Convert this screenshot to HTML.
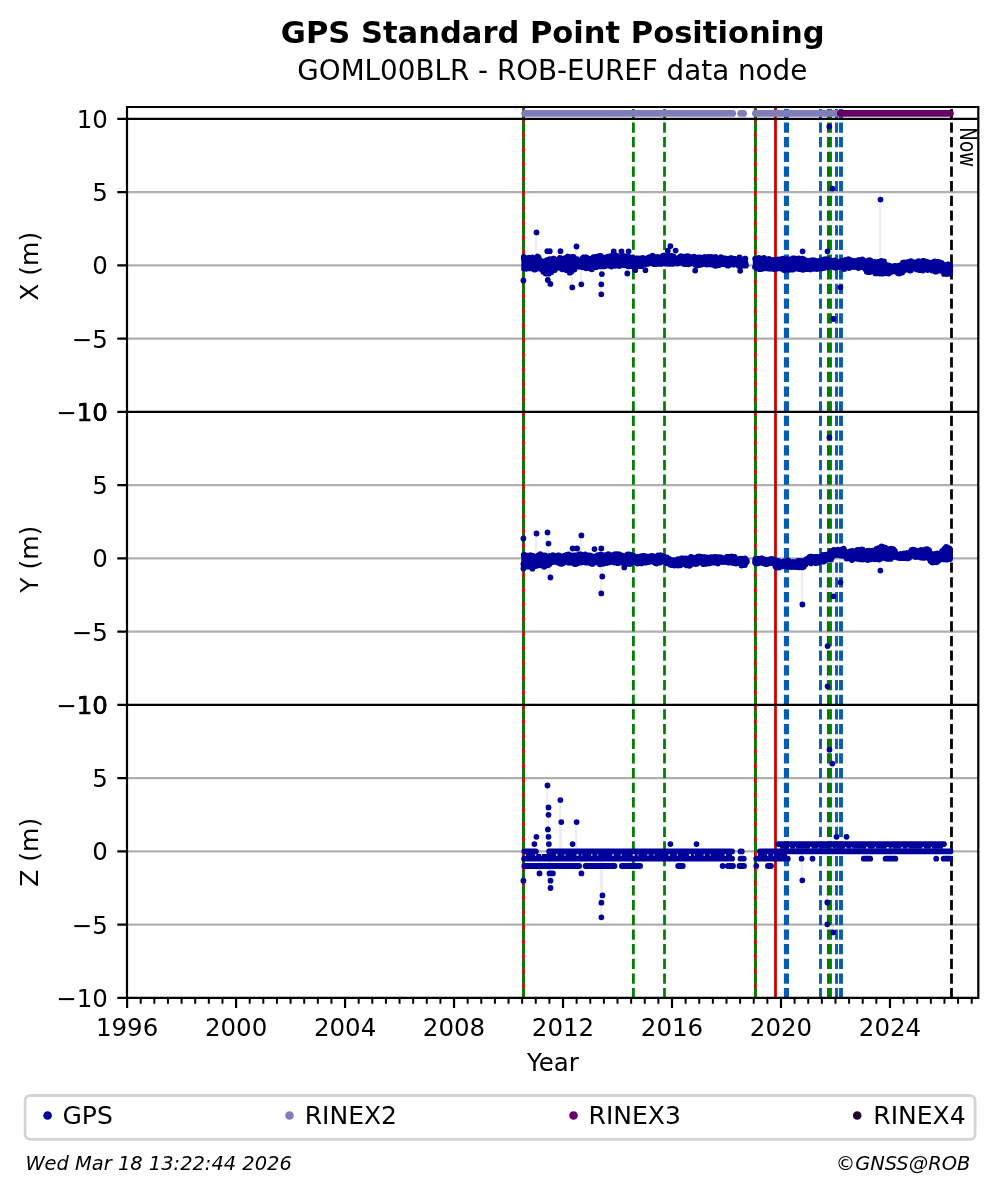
<!DOCTYPE html>
<html><head><meta charset="utf-8"><title>GPS Standard Point Positioning</title>
<style>html,body{margin:0;padding:0;background:#fff}svg{display:block}</style></head>
<body>
<svg width="997" height="1194" viewBox="0 0 997 1194" font-family='"DejaVu Sans", "Liberation Sans", sans-serif'>
<rect width="997" height="1194" fill="#fff"/>
<path d="M127.0 192.15H978.3M127.0 265.40H978.3M127.0 338.65H978.3M127.0 485.15H978.3M127.0 558.40H978.3M127.0 631.65H978.3M127.0 778.15H978.3M127.0 851.40H978.3M127.0 924.65H978.3" stroke="#b0b0b0" stroke-width="2.2" fill="none"/>
<path d="M523.50 107.75V997.9" stroke="#cc0000" stroke-width="2.78" fill="none"/>
<path d="M755.40 107.75V997.9" stroke="#cc0000" stroke-width="2.78" fill="none"/>
<path d="M775.50 107.75V997.9" stroke="#cc0000" stroke-width="2.78" fill="none"/>
<path d="M523.50 109.0V997.9" stroke="#008000" stroke-width="2.78" stroke-dasharray="10.25 4.422" stroke-dashoffset="1.25" fill="none"/>
<path d="M755.40 109.0V997.9" stroke="#008000" stroke-width="2.78" stroke-dasharray="10.25 4.422" stroke-dashoffset="1.25" fill="none"/>
<path d="M633.40 109.0V997.9" stroke="#008000" stroke-width="2.78" stroke-dasharray="10.25 4.422" stroke-dashoffset="1.25" fill="none"/>
<path d="M664.50 109.0V997.9" stroke="#008000" stroke-width="2.78" stroke-dasharray="10.25 4.422" stroke-dashoffset="1.25" fill="none"/>
<path d="M786.45 109.0V997.9" stroke="#055db5" stroke-width="5.1" stroke-dasharray="10.25 4.422" stroke-dashoffset="1.25" fill="none"/>
<path d="M820.50 109.0V997.9" stroke="#055db5" stroke-width="2.9" stroke-dasharray="10.25 4.422" stroke-dashoffset="1.25" fill="none"/>
<path d="M836.50 109.0V997.9" stroke="#055db5" stroke-width="2.9" stroke-dasharray="10.25 4.422" stroke-dashoffset="1.25" fill="none"/>
<path d="M841.00 109.0V997.9" stroke="#055db5" stroke-width="3.9" stroke-dasharray="10.25 4.422" stroke-dashoffset="1.25" fill="none"/>
<path d="M829.45 109.0V997.9" stroke="#008000" stroke-width="4.95" stroke-dasharray="10.25 4.422" stroke-dashoffset="1.25" fill="none"/>
<path d="M951.50 109.0V997.9" stroke="#000" stroke-width="2.78" stroke-dasharray="10.25 4.422" stroke-dashoffset="1.25" fill="none"/>
<path d="M536.5 232.4V263M576.5 246.5V263M523.4 280.4V263M547.8 280.0V263M550.4 283.9V263M572.3 287.4V263M581.3 284.3V263M601.3 284.3V263M601.3 294.3V263M670.4 246.1V263M667.8 250.6V263M675.6 250.6V263M829.3 126.6V263M832.5 188.6V263M840.4 287.3V263M833.4 319.0V263M880.5 199.6V263M523.4 538.4V558M536.5 533.5V558M547.5 532.4V558M548.5 543.6V558M581.4 535.4V558M550.4 577.5V558M602.3 576.5V558M601.3 593.4V558M829.4 437.5V558M802.4 604.5V558M833.4 596.3V558M840.4 582.3V558M827.6 646.1V558M827.6 686.3V558M880.4 570.6V558M829.5 749.7V851M832.3 763.6V851M802.3 880.3V851M827.3 902.5V851M827.3 924.3V851M833.2 932.4V851M539.5 873.4V851.4M549.5 873.4V851.4M581.4 873.4V851.4M523.4 880.7V851.4M550.5 880.7V851.4M550.5 888.0V851.4M547.9 829.4V851.4M561.3 822.1V851.4M576.6 822.1V851.4M548.5 814.8V851.4M548.5 807.4V851.4M560.4 800.1V851.4M547.5 785.5V851.4M602.5 895.4V851.4M601.4 902.7V851.4M601.4 917.3V851.4" stroke="#00008b" stroke-opacity="0.065" stroke-width="2.4" transform="translate(-0.4 0)" fill="none"/>
<path d="M521.3 255.7L521.8 255.7L522.3 255.6L522.8 255.6L523.3 255.5L523.8 255.5L524.3 255.5L524.8 255.6L525.3 255.7L525.8 255.8L526.3 255.9L526.8 256.1L527.3 256.2L527.8 256.2L528.3 256.2L528.8 256.3L529.3 256.3L529.8 256.3L530.3 256.4L530.8 256.4L531.3 256.4L531.8 256.4L532.3 256.5L532.8 256.4L533.3 256.3L533.8 256.1L534.3 255.9L534.8 255.7L535.3 255.6L535.8 255.6L536.3 255.6L536.8 255.6L537.3 255.6L537.8 255.6L538.3 255.6L538.8 255.7L539.3 255.7L539.8 255.7L540.3 256.8L540.8 258.7L541.3 259.6L541.8 259.9L542.3 260.2L542.8 260.5L543.3 260.8L543.8 260.9L544.3 260.9L544.8 260.8L545.3 260.6L545.8 260.3L546.3 259.9L546.8 259.5L547.3 259.1L547.8 258.9L548.3 258.7L548.8 258.5L549.3 258.3L549.8 258.1L550.3 257.9L550.8 257.7L551.3 257.6L551.8 257.4L552.3 257.2L552.8 257.2L553.3 257.4L553.8 257.8L554.3 258.1L554.8 258.5L555.3 258.7L555.8 258.9L556.3 258.8L556.8 258.7L557.3 258.4L557.8 258.1L558.3 257.8L558.8 257.5L559.3 257.3L559.8 257.1L560.3 257.1L560.8 257.2L561.3 257.3L561.8 257.4L562.3 257.6L562.8 257.7L563.3 257.7L563.8 257.6L564.3 257.5L564.8 257.3L565.3 257.0L565.8 256.6L566.3 256.3L566.8 256.0L567.3 255.7L567.8 255.5L568.3 255.4L568.8 255.5L569.3 255.5L569.8 255.6L570.3 255.7L570.8 255.7L571.3 255.8L571.8 255.8L572.3 255.8L572.8 255.7L573.3 255.6L573.8 255.4L574.3 256.3L574.8 257.8L575.3 258.4L575.8 258.3L576.3 258.3L576.8 258.4L577.3 258.6L577.8 258.7L578.3 258.9L578.8 259.1L579.3 259.2L579.8 259.3L580.3 259.3L580.8 259.4L581.3 259.5L581.8 259.6L582.3 258.7L582.8 257.2L583.3 256.6L583.8 256.7L584.3 256.7L584.8 256.6L585.3 256.5L585.8 256.3L586.3 256.1L586.8 255.9L587.3 255.8L587.8 255.7L588.3 255.7L588.8 255.8L589.3 255.9L589.8 256.0L590.3 256.1L590.8 256.2L591.3 256.3L591.8 256.3L592.3 256.3L592.8 256.3L593.3 256.3L593.8 256.2L594.3 256.2L594.8 256.2L595.3 256.1L595.8 256.1L596.3 256.1L596.8 256.0L597.3 255.8L597.8 255.6L598.3 255.4L598.8 255.2L599.3 255.0L599.8 254.9L600.3 255.0L600.8 255.1L601.3 255.3L601.8 255.5L602.3 255.8L602.8 256.1L603.3 256.2L603.8 256.3L604.3 256.3L604.8 256.3L605.3 256.2L605.8 256.2L606.3 256.1L606.8 256.0L607.3 255.9L607.8 255.9L608.3 255.9L608.8 255.8L609.3 255.7L609.8 255.6L610.3 255.5L610.8 255.4L611.3 255.3L611.8 255.2L612.3 255.2L612.8 255.2L613.3 255.1L613.8 255.1L614.3 255.0L614.8 254.9L615.3 254.9L615.8 254.8L616.3 254.9L616.8 255.0L617.3 255.2L617.8 255.6L618.3 255.9L618.8 256.2L619.3 256.4L619.8 256.6L620.3 256.5L620.8 256.5L621.3 256.3L621.8 256.1L622.3 255.9L622.8 255.7L623.3 255.6L623.8 255.5L624.3 255.5L624.8 255.5L625.3 255.6L625.8 255.7L626.3 255.8L626.8 256.0L627.3 256.0L627.8 256.1L628.3 256.1L628.8 256.1L629.3 256.2L629.8 256.3L630.3 256.3L630.8 256.4L631.3 256.5L631.8 256.5L632.3 256.7L632.8 256.9L633.3 257.2L633.8 257.4L634.3 257.4L634.8 257.3L635.3 257.3L635.8 257.2L636.3 257.2L636.8 257.3L637.3 257.4L637.8 257.5L638.3 257.6L638.8 257.7L639.3 257.8L639.8 257.8L640.3 257.8L640.8 257.7L641.3 257.5L641.8 257.3L642.3 257.0L642.8 256.7L643.3 256.5L643.8 256.5L644.3 256.5L644.8 256.5L645.3 256.7L645.8 256.9L646.3 257.1L646.8 257.3L647.3 257.4L647.8 257.5L648.3 257.0L648.8 256.1L649.3 255.7L649.8 255.5L650.3 255.3L650.8 255.1L651.3 255.0L651.8 255.0L652.3 255.0L652.8 255.1L653.3 255.3L653.8 255.5L654.3 255.8L654.8 256.0L655.3 256.2L655.8 256.3L656.3 256.3L656.8 256.3L657.3 256.2L657.8 256.2L658.3 256.2L658.8 256.1L659.3 256.1L659.8 256.1L660.3 256.1L660.8 255.9L661.3 255.7L661.8 255.4L662.3 255.0L662.8 254.7L663.3 254.5L663.8 254.4L664.3 254.4L664.8 254.4L665.3 254.4L665.8 254.4L666.3 254.5L666.8 254.5L667.3 254.5L667.8 254.5L668.3 254.6L668.8 254.6L669.3 254.6L669.8 254.7L670.3 254.7L670.8 254.8L671.3 254.8L671.8 254.8L672.3 254.9L672.8 255.1L673.3 255.4L673.8 255.7L674.3 256.1L674.8 256.5L675.3 256.7L675.8 256.9L676.3 256.9L676.8 256.8L677.3 256.6L677.8 256.4L678.3 256.1L678.8 255.8L679.3 255.6L679.8 255.5L680.3 255.5L680.8 255.6L681.3 255.6L681.8 255.7L682.3 255.8L682.8 255.9L683.3 256.0L683.8 256.0L684.3 256.0L684.8 255.9L685.3 255.8L685.8 255.7L686.3 255.5L686.8 255.4L687.3 255.3L687.8 255.3L688.3 255.3L688.8 255.3L689.3 255.4L689.8 255.4L690.3 255.5L690.8 255.6L691.3 255.7L691.8 255.7L692.3 255.7L692.8 255.7L693.3 255.6L693.8 255.6L694.3 255.5L694.8 255.5L695.3 255.8L695.8 256.5L696.3 256.7L696.8 256.7L697.3 256.7L697.8 256.7L698.3 256.7L698.8 256.7L699.3 256.7L699.8 256.7L700.3 256.7L700.8 256.7L701.3 256.8L701.8 256.9L702.3 257.0L702.8 257.1L703.3 256.6L703.8 255.7L704.3 255.3L704.8 255.3L705.3 255.3L705.8 255.3L706.3 255.3L706.8 255.3L707.3 255.3L707.8 255.3L708.3 255.3L708.8 255.4L709.3 255.5L709.8 255.7L710.3 255.8L710.8 256.0L711.3 256.1L711.8 256.2L712.3 256.2L712.8 256.1L713.3 256.0L713.8 255.9L714.3 255.8L714.8 255.7L715.3 255.6L715.8 255.5L716.3 255.5L716.8 255.6L717.3 255.7L717.8 255.8L718.3 256.0L718.8 256.1L719.3 256.2L719.8 256.3L720.3 256.3L720.8 256.2L721.3 256.2L721.8 256.2L722.3 256.1L722.8 256.1L723.3 256.5L723.8 257.3L724.3 257.6L724.8 257.7L725.3 257.7L725.8 257.8L726.3 257.9L726.8 258.0L727.3 258.0L727.8 258.1L728.3 258.1L728.8 258.0L729.3 257.8L729.8 257.7L730.3 257.5L730.8 257.3L731.3 257.2L731.8 257.1L732.3 257.1L732.8 257.0L733.3 256.9L733.8 256.7L734.3 257.0L734.8 257.8L735.3 258.6L735.8 258.9L736.3 258.9L736.8 259.0L737.3 259.2L737.8 258.8L738.3 257.8L738.8 256.8L739.3 256.6L739.8 256.7L740.3 256.8L740.8 256.9L741.3 257.0L741.8 257.1L742.3 257.2L742.8 257.4L743.3 257.5L743.8 257.5L744.3 257.6L744.8 257.6L745.3 257.7L745.8 257.7L746.3 257.7L746.8 257.6L747.3 257.6L747.8 257.6L747.8 266.6L747.3 266.6L746.8 266.5L746.3 266.4L745.8 266.4L745.3 266.3L744.8 266.2L744.3 266.2L743.8 266.2L743.3 266.3L742.8 266.4L742.3 266.6L741.8 266.8L741.3 267.0L740.8 267.2L740.3 267.3L739.8 267.3L739.3 267.2L738.8 266.6L738.3 265.5L737.8 264.2L737.3 263.5L736.8 263.3L736.3 263.2L735.8 263.2L735.3 263.5L734.8 264.2L734.3 265.0L733.8 265.4L733.3 265.4L732.8 265.4L732.3 265.4L731.8 265.4L731.3 265.5L730.8 265.7L730.3 265.8L729.8 266.0L729.3 266.2L728.8 266.4L728.3 266.5L727.8 266.5L727.3 266.4L726.8 266.3L726.3 266.1L725.8 265.9L725.3 265.8L724.8 265.6L724.3 265.5L723.8 265.5L723.3 265.6L722.8 265.6L722.3 265.7L721.8 265.7L721.3 265.8L720.8 265.9L720.3 265.9L719.8 265.9L719.3 266.0L718.8 266.0L718.3 266.1L717.8 266.3L717.3 266.4L716.8 266.4L716.3 266.5L715.8 266.5L715.3 266.4L714.8 266.3L714.3 266.2L713.8 266.0L713.3 265.8L712.8 265.7L712.3 265.6L711.8 265.6L711.3 265.6L710.8 265.6L710.3 265.6L709.8 265.6L709.3 265.7L708.8 265.7L708.3 265.7L707.8 265.7L707.3 265.6L706.8 265.4L706.3 265.2L705.8 264.9L705.3 264.7L704.8 264.5L704.3 264.4L703.8 264.4L703.3 264.5L702.8 264.7L702.3 265.0L701.8 265.4L701.3 265.7L700.8 266.0L700.3 266.1L699.8 266.1L699.3 266.1L698.8 266.2L698.3 266.2L697.8 266.2L697.3 266.2L696.8 266.2L696.3 266.2L695.8 266.1L695.3 265.7L694.8 265.4L694.3 265.2L693.8 265.0L693.3 264.8L692.8 264.6L692.3 264.5L691.8 264.5L691.3 264.5L690.8 264.6L690.3 264.7L689.8 264.9L689.3 265.0L688.8 265.1L688.3 265.1L687.8 265.1L687.3 265.1L686.8 265.0L686.3 265.0L685.8 265.0L685.3 264.9L684.8 264.9L684.3 264.9L683.8 264.8L683.3 264.7L682.8 264.6L682.3 264.3L681.8 264.1L681.3 263.9L680.8 263.7L680.3 263.6L679.8 263.5L679.3 263.6L678.8 263.7L678.3 263.9L677.8 264.0L677.3 264.2L676.8 264.3L676.3 264.4L675.8 264.4L675.3 264.4L674.8 264.5L674.3 264.5L673.8 264.5L673.3 264.5L672.8 264.6L672.3 264.6L671.8 264.6L671.3 264.6L670.8 264.6L670.3 264.5L669.8 264.5L669.3 264.5L668.8 264.5L668.3 264.5L667.8 264.5L667.3 264.5L666.8 264.5L666.3 264.4L665.8 264.4L665.3 264.4L664.8 264.4L664.3 264.4L663.8 264.4L663.3 264.4L662.8 264.4L662.3 264.5L661.8 264.5L661.3 264.6L660.8 264.6L660.3 264.7L659.8 264.7L659.3 264.7L658.8 264.7L658.3 264.7L657.8 264.8L657.3 264.8L656.8 264.8L656.3 264.8L655.8 264.8L655.3 264.8L654.8 264.8L654.3 264.9L653.8 264.9L653.3 264.9L652.8 265.0L652.3 265.0L651.8 265.0L651.3 264.9L650.8 264.7L650.3 264.5L649.8 264.2L649.3 264.0L648.8 264.0L648.3 264.4L647.8 264.7L647.3 264.7L646.8 264.7L646.3 264.8L645.8 264.8L645.3 264.8L644.8 264.9L644.3 264.9L643.8 265.0L643.3 265.2L642.8 265.4L642.3 265.8L641.8 266.2L641.3 266.6L640.8 266.9L640.3 267.1L639.8 267.2L639.3 267.1L638.8 267.0L638.3 266.8L637.8 266.6L637.3 266.4L636.8 266.3L636.3 266.2L635.8 266.3L635.3 266.5L634.8 266.8L634.3 267.2L633.8 267.4L633.3 267.5L632.8 267.5L632.3 267.4L631.8 267.3L631.3 267.3L630.8 267.3L630.3 267.2L629.8 267.2L629.3 267.2L628.8 267.2L628.3 267.2L627.8 267.2L627.3 267.1L626.8 267.0L626.3 266.8L625.8 266.6L625.3 266.5L624.8 266.3L624.3 266.3L623.8 266.3L623.3 266.3L622.8 266.3L622.3 266.4L621.8 266.5L621.3 266.6L620.8 266.7L620.3 266.7L619.8 266.7L619.3 266.8L618.8 266.8L618.3 266.9L617.8 266.9L617.3 267.0L616.8 267.1L616.3 267.1L615.8 267.1L615.3 267.1L614.8 267.1L614.3 267.2L613.8 267.2L613.3 267.2L612.8 267.3L612.3 267.3L611.8 267.3L611.3 267.2L610.8 267.1L610.3 266.9L609.8 266.7L609.3 266.5L608.8 266.4L608.3 266.3L607.8 266.3L607.3 266.3L606.8 266.5L606.3 266.7L605.8 266.9L605.3 267.1L604.8 267.3L604.3 267.4L603.8 267.5L603.3 267.5L602.8 267.5L602.3 267.5L601.8 267.5L601.3 267.5L600.8 267.5L600.3 267.6L599.8 267.6L599.3 267.5L598.8 267.3L598.3 267.1L597.8 266.8L597.3 266.5L596.8 266.8L596.3 268.1L595.8 268.9L595.3 269.0L594.8 269.2L594.3 269.4L593.8 269.7L593.3 270.0L592.8 270.2L592.3 270.3L591.8 270.3L591.3 270.2L590.8 270.0L590.3 269.8L589.8 269.5L589.3 269.3L588.8 269.1L588.3 269.0L587.8 269.0L587.3 269.0L586.8 269.0L586.3 269.1L585.8 269.1L585.3 269.2L584.8 269.3L584.3 269.3L583.8 269.3L583.3 269.4L582.8 268.8L582.3 267.2L581.8 266.3L581.3 266.7L580.8 267.1L580.3 267.3L579.8 267.5L579.3 267.6L578.8 267.6L578.3 267.6L577.8 267.5L577.3 267.5L576.8 267.5L576.3 267.6L575.8 267.7L575.3 268.0L574.8 269.2L574.3 272.0L573.8 273.7L573.3 274.0L572.8 274.2L572.3 274.3L571.8 274.3L571.3 274.2L570.8 274.1L570.3 273.9L569.8 273.7L569.3 273.5L568.8 272.7L568.3 271.2L567.8 270.2L567.3 270.3L566.8 270.5L566.3 270.6L565.8 270.8L565.3 271.0L564.8 271.2L564.3 271.3L563.8 271.3L563.3 271.1L562.8 270.9L562.3 270.6L561.8 270.3L561.3 269.9L560.8 269.7L560.3 269.5L559.8 269.5L559.3 269.5L558.8 269.6L558.3 269.6L557.8 269.7L557.3 269.7L556.8 269.8L556.3 269.8L555.8 270.1L555.3 270.8L554.8 271.7L554.3 272.5L553.8 273.4L553.3 274.3L552.8 274.8L552.3 274.9L551.8 275.0L551.3 275.0L550.8 275.0L550.3 275.0L549.8 275.1L549.3 275.1L548.8 275.2L548.3 275.2L547.8 275.2L547.3 275.1L546.8 275.1L546.3 275.0L545.8 274.9L545.3 274.6L544.8 274.4L544.3 274.2L543.8 274.1L543.3 273.8L542.8 273.6L542.3 273.2L541.8 272.9L541.3 272.6L540.8 271.8L540.3 270.5L539.8 269.7L539.3 269.8L538.8 270.0L538.3 270.3L537.8 270.6L537.3 270.9L536.8 271.1L536.3 271.2L535.8 271.2L535.3 271.0L534.8 270.8L534.3 270.4L533.8 270.0L533.3 269.6L532.8 269.3L532.3 269.1L531.8 269.0L531.3 269.1L530.8 269.1L530.3 269.2L529.8 269.3L529.3 269.3L528.8 269.4L528.3 269.4L527.8 269.4L527.3 269.6L526.8 269.8L526.3 270.1L525.8 270.4L525.3 270.7L524.8 270.9L524.3 271.1L523.8 271.1L523.3 271.1L522.8 271.0L522.3 271.0L521.8 270.9L521.3 270.8Z" fill="#00009b"/>
<path d="M523.7 258.2h0M523.8 256.9h0M524.0 257.6h0M525.2 257.9h0M525.3 268.3h0M525.5 268.6h0M526.2 268.8h0M526.5 266.9h0M527.4 259.3h0M528.0 267.4h0M529.2 257.6h0M529.5 268.4h0M530.9 259.5h0M531.5 268.4h0M531.8 266.5h0M532.1 267.8h0M532.5 257.3h0M533.3 267.5h0M533.7 268.5h0M533.9 268.1h0M534.2 269.6h0M535.2 269.5h0M535.7 269.1h0M537.0 268.4h0M537.6 256.4h0M538.1 257.2h0M538.2 257.0h0M538.8 267.8h0M539.0 258.7h0M540.2 268.8h0M541.2 262.2h0M542.0 261.1h0M542.9 262.0h0M543.0 263.3h0M543.2 262.4h0M543.3 271.8h0M544.2 263.8h0M544.5 263.6h0M544.8 272.4h0M545.6 273.6h0M545.7 260.9h0M545.9 273.5h0M546.0 263.1h0M546.3 272.3h0M546.5 273.1h0M546.6 273.0h0M546.8 262.4h0M546.9 260.2h0M547.2 260.7h0M548.0 272.0h0M548.1 273.3h0M548.6 273.7h0M548.7 272.6h0M548.9 273.6h0M549.3 260.7h0M549.5 272.8h0M549.6 259.2h0M550.2 260.6h0M550.8 259.4h0M551.1 272.1h0M551.9 259.8h0M552.0 260.4h0M553.1 258.6h0M553.8 258.6h0M554.1 260.9h0M554.3 259.5h0M554.9 270.0h0M555.0 268.3h0M555.2 268.4h0M555.5 259.8h0M556.2 268.1h0M556.7 261.5h0M556.8 259.8h0M557.1 261.1h0M557.3 266.6h0M557.4 260.7h0M557.9 267.5h0M559.1 267.3h0M559.4 260.2h0M559.7 266.6h0M559.8 257.8h0M560.0 259.6h0M560.4 258.2h0M560.7 258.2h0M561.3 258.4h0M561.5 268.8h0M562.2 269.3h0M562.4 269.1h0M562.5 258.9h0M563.0 259.0h0M564.0 268.4h0M565.1 258.2h0M565.2 259.0h0M565.8 269.6h0M566.0 270.1h0M566.1 269.1h0M567.0 257.1h0M567.3 257.6h0M567.9 256.4h0M568.8 256.8h0M569.4 258.7h0M569.7 272.7h0M569.9 272.1h0M570.0 272.4h0M570.3 257.8h0M570.5 257.6h0M571.5 257.0h0M573.5 256.9h0M574.4 269.6h0M574.5 268.1h0M575.1 265.8h0M575.4 259.1h0M576.2 259.8h0M576.6 264.8h0M577.1 264.7h0M577.2 259.2h0M577.4 260.8h0M577.5 265.1h0M577.7 260.2h0M577.8 261.5h0M578.0 266.7h0M578.3 261.9h0M578.4 266.7h0M578.6 260.4h0M578.7 261.2h0M578.9 266.8h0M579.2 260.7h0M579.5 262.0h0M580.1 260.3h0M580.4 260.8h0M580.5 264.2h0M580.7 266.2h0M580.8 262.1h0M581.0 263.9h0M581.1 260.6h0M581.3 264.8h0M581.4 263.6h0M581.7 263.7h0M581.9 260.5h0M582.0 261.9h0M582.2 265.1h0M582.3 260.3h0M582.5 266.4h0M582.6 267.3h0M582.8 258.0h0M582.9 258.2h0M583.2 259.7h0M583.5 257.4h0M583.7 257.5h0M584.9 257.4h0M585.2 259.2h0M585.8 257.4h0M586.1 265.9h0M586.2 268.3h0M586.7 257.6h0M587.4 267.7h0M588.9 266.3h0M589.4 258.9h0M590.3 268.5h0M591.0 267.9h0M591.5 269.3h0M591.9 269.2h0M592.8 258.1h0M593.3 258.9h0M593.4 257.2h0M594.5 258.2h0M594.6 257.4h0M594.8 266.8h0M595.2 256.8h0M595.7 257.5h0M595.8 257.1h0M596.1 267.2h0M596.6 258.6h0M596.7 257.2h0M597.0 256.6h0M597.2 256.9h0M597.3 259.0h0M597.9 257.7h0M598.5 256.8h0M598.8 258.0h0M599.6 255.8h0M600.3 257.0h0M600.5 266.4h0M600.6 256.4h0M600.8 255.9h0M601.4 264.5h0M602.3 265.8h0M602.9 264.4h0M603.0 265.6h0M603.6 266.4h0M603.8 258.9h0M604.2 257.8h0M604.5 258.2h0M605.0 266.0h0M605.1 264.4h0M605.3 266.0h0M606.3 257.8h0M606.5 258.2h0M606.6 257.5h0M607.1 258.7h0M607.4 265.3h0M607.5 264.6h0M607.7 256.7h0M607.8 258.2h0M608.1 264.5h0M608.3 256.6h0M608.6 263.4h0M609.2 256.6h0M609.5 257.3h0M610.1 256.6h0M610.2 265.9h0M610.7 265.0h0M610.8 266.3h0M611.0 266.3h0M611.1 255.9h0M611.3 257.9h0M611.6 266.6h0M611.9 256.3h0M612.2 266.1h0M612.8 265.7h0M612.9 264.3h0M613.2 265.1h0M614.4 256.1h0M615.2 264.3h0M615.3 265.8h0M615.6 255.5h0M616.4 256.9h0M616.7 257.9h0M617.3 256.0h0M618.2 263.9h0M618.3 264.1h0M619.2 258.4h0M619.4 266.1h0M620.0 264.6h0M621.0 263.5h0M621.3 258.7h0M621.8 257.7h0M622.1 258.3h0M622.2 256.6h0M622.8 256.6h0M623.1 257.7h0M623.6 265.1h0M623.9 265.3h0M624.0 257.0h0M624.2 257.4h0M624.3 256.2h0M624.5 258.4h0M625.2 265.2h0M625.4 264.8h0M625.7 258.8h0M626.0 256.7h0M626.7 264.8h0M626.9 256.7h0M627.0 264.7h0M627.2 265.4h0M627.5 265.5h0M627.8 258.2h0M628.2 266.4h0M628.8 259.1h0M629.0 256.8h0M629.9 257.5h0M630.0 265.5h0M630.5 266.2h0M632.0 265.1h0M632.4 257.6h0M633.0 266.3h0M633.3 265.6h0M633.6 265.9h0M633.8 264.3h0M634.7 266.0h0M635.3 265.8h0M635.4 263.2h0M635.7 263.2h0M635.9 263.9h0M636.0 258.3h0M636.2 264.6h0M636.8 258.3h0M636.9 265.3h0M637.4 258.7h0M637.5 265.4h0M637.7 264.1h0M637.8 266.0h0M638.0 264.0h0M638.3 258.5h0M638.4 266.0h0M638.7 260.3h0M638.9 264.7h0M639.3 258.7h0M639.5 259.4h0M639.8 259.6h0M640.2 261.0h0M640.4 258.5h0M640.5 259.2h0M640.7 265.1h0M640.8 266.2h0M641.1 263.8h0M641.6 264.3h0M642.2 265.2h0M642.5 264.8h0M642.8 257.8h0M643.1 258.5h0M643.4 262.7h0M643.5 263.2h0M643.7 259.5h0M643.8 263.1h0M644.0 259.3h0M644.1 262.1h0M644.3 258.8h0M644.4 263.0h0M644.6 264.2h0M645.0 259.2h0M645.2 262.4h0M645.5 262.6h0M645.6 262.5h0M645.9 259.0h0M646.1 259.9h0M646.2 259.6h0M646.4 263.1h0M646.7 258.6h0M647.0 263.9h0M647.1 258.2h0M647.3 260.5h0M647.4 260.6h0M647.6 258.1h0M647.7 262.7h0M647.9 263.8h0M648.0 262.3h0M648.2 262.6h0M648.6 262.7h0M648.8 261.7h0M648.9 258.3h0M649.1 262.1h0M649.2 257.2h0M649.4 258.6h0M649.5 261.3h0M649.7 257.5h0M650.0 257.5h0M650.1 262.4h0M650.3 262.2h0M650.4 257.6h0M650.9 257.4h0M651.0 262.6h0M651.6 262.0h0M651.8 263.3h0M652.1 263.0h0M652.5 255.7h0M652.7 262.5h0M653.3 262.0h0M653.4 258.4h0M653.6 256.4h0M653.9 262.0h0M654.0 264.1h0M654.9 259.2h0M655.2 262.8h0M655.4 258.1h0M655.7 258.2h0M655.8 258.1h0M656.3 264.0h0M656.6 262.7h0M656.7 261.8h0M657.0 257.3h0M657.2 263.1h0M657.5 256.9h0M657.6 262.8h0M657.8 259.3h0M657.9 262.5h0M658.1 257.2h0M658.2 258.1h0M659.0 263.0h0M659.1 259.3h0M659.7 262.9h0M659.9 262.2h0M660.0 258.2h0M660.2 259.0h0M660.3 263.9h0M660.5 258.8h0M660.8 258.8h0M660.9 263.6h0M661.1 257.0h0M661.4 257.6h0M661.5 263.3h0M661.7 263.8h0M661.8 257.3h0M662.3 257.7h0M662.6 261.5h0M662.7 263.4h0M662.9 262.3h0M663.0 255.7h0M663.2 261.8h0M663.8 262.5h0M664.1 255.4h0M664.2 262.9h0M664.7 257.2h0M665.1 261.2h0M665.4 263.6h0M666.0 262.3h0M666.2 257.6h0M666.6 257.7h0M666.9 256.2h0M667.1 261.5h0M667.2 263.5h0M667.4 256.8h0M667.5 261.6h0M667.7 256.4h0M667.8 257.3h0M668.4 255.5h0M668.6 257.7h0M668.9 262.8h0M669.0 257.1h0M669.3 263.9h0M669.5 255.6h0M669.6 263.4h0M669.9 257.2h0M670.2 256.1h0M670.4 262.2h0M670.5 261.7h0M670.7 261.5h0M670.8 257.2h0M671.0 255.7h0M671.3 256.2h0M671.9 263.4h0M672.0 262.2h0M672.2 257.6h0M672.5 263.7h0M672.6 256.4h0M672.8 263.8h0M673.4 258.2h0M673.5 256.5h0M673.7 258.5h0M673.8 262.3h0M674.0 258.6h0M674.4 257.7h0M674.9 258.8h0M675.3 259.4h0M675.5 259.6h0M675.6 261.4h0M675.8 258.5h0M675.9 262.1h0M676.4 259.3h0M676.7 259.4h0M677.0 262.5h0M677.1 261.9h0M677.3 263.4h0M677.4 258.5h0M678.0 261.8h0M678.2 261.0h0M678.5 262.1h0M678.6 259.1h0M678.8 258.3h0M679.1 261.0h0M679.4 257.3h0M679.5 258.5h0M679.8 261.0h0M680.0 262.8h0M680.6 258.6h0M680.7 256.2h0M681.0 262.0h0M681.2 261.6h0M681.6 258.5h0M681.9 258.4h0M682.1 257.8h0M682.4 262.7h0M682.5 257.4h0M682.7 256.7h0M683.0 256.9h0M683.1 262.2h0M683.3 257.3h0M683.9 262.1h0M684.0 263.4h0M684.3 264.0h0M684.5 264.1h0M684.6 259.1h0M685.1 256.6h0M685.2 259.0h0M685.4 261.8h0M685.7 264.1h0M685.8 264.2h0M686.0 256.7h0M686.3 256.6h0M686.9 262.6h0M687.0 263.0h0M687.9 257.6h0M688.1 256.1h0M688.2 262.5h0M688.5 264.3h0M688.7 262.3h0M689.3 263.3h0M689.6 256.9h0M689.7 263.7h0M690.0 257.8h0M690.3 257.6h0M690.6 258.2h0M690.9 262.7h0M691.2 258.0h0M691.5 262.5h0M691.7 261.8h0M692.0 257.4h0M692.1 258.8h0M692.3 258.5h0M693.0 261.5h0M693.2 258.4h0M693.6 256.9h0M693.8 258.1h0M693.9 256.7h0M694.1 257.6h0M694.8 257.4h0M695.0 264.6h0M695.1 264.3h0M695.3 258.7h0M695.4 258.9h0M695.6 264.9h0M695.7 265.1h0M696.2 258.5h0M696.6 265.3h0M696.8 264.4h0M697.1 265.5h0M697.4 265.3h0M697.5 257.4h0M697.7 265.1h0M698.1 264.2h0M698.4 263.5h0M698.6 263.8h0M698.7 264.1h0M698.9 265.0h0M699.0 264.9h0M699.2 263.0h0M699.5 265.1h0M699.6 263.5h0M699.8 257.5h0M700.5 258.7h0M701.0 264.7h0M701.1 262.8h0M701.3 263.5h0M701.7 258.3h0M701.9 259.2h0M702.0 262.6h0M702.5 259.8h0M702.6 264.1h0M702.9 263.1h0M703.2 262.5h0M703.4 258.4h0M703.5 257.3h0M703.7 262.6h0M704.1 262.0h0M704.3 261.5h0M704.6 256.9h0M704.7 258.2h0M705.0 261.5h0M705.5 258.1h0M705.8 262.6h0M705.9 257.9h0M706.2 262.6h0M706.4 264.5h0M706.8 257.7h0M707.1 258.2h0M707.4 262.4h0M707.7 264.1h0M707.9 257.6h0M708.0 256.9h0M708.2 264.3h0M708.3 263.4h0M708.5 257.8h0M708.8 257.5h0M709.2 263.2h0M709.4 257.9h0M709.5 257.2h0M710.0 264.4h0M710.1 257.7h0M710.3 259.0h0M710.4 257.0h0M710.7 257.1h0M710.9 257.0h0M711.0 257.3h0M711.2 264.3h0M711.3 257.1h0M711.9 258.6h0M712.2 263.4h0M712.4 262.7h0M712.7 264.7h0M713.0 257.1h0M713.1 264.6h0M713.7 264.9h0M713.9 263.0h0M714.5 257.4h0M714.8 258.2h0M715.2 265.8h0M715.5 256.8h0M716.0 265.5h0M716.1 265.8h0M716.3 264.3h0M716.6 263.4h0M716.9 265.3h0M717.0 263.2h0M717.3 265.2h0M717.5 263.3h0M718.1 263.3h0M718.4 258.8h0M718.5 264.4h0M719.0 263.6h0M719.1 263.5h0M719.3 265.0h0M719.7 263.1h0M719.9 262.8h0M720.2 258.5h0M720.6 262.9h0M720.8 257.2h0M721.2 258.0h0M721.7 262.7h0M721.8 258.5h0M722.0 258.6h0M722.1 263.0h0M722.4 258.8h0M722.6 259.3h0M722.7 262.7h0M722.9 264.1h0M723.2 258.1h0M723.5 258.7h0M723.9 260.2h0M724.1 262.6h0M724.4 262.5h0M724.5 260.7h0M724.8 260.1h0M725.0 264.0h0M725.1 263.0h0M725.3 263.9h0M725.4 258.4h0M726.3 259.6h0M726.6 258.6h0M726.8 260.1h0M726.9 258.8h0M727.1 265.3h0M727.2 264.5h0M727.4 265.5h0M727.5 264.4h0M728.1 265.7h0M728.3 264.9h0M728.6 263.7h0M728.9 261.1h0M729.0 258.6h0M729.2 259.3h0M729.3 259.4h0M729.9 264.4h0M730.1 263.3h0M730.4 260.6h0M730.7 262.9h0M730.8 259.5h0M731.0 258.2h0M731.3 263.7h0M731.4 264.0h0M731.6 262.6h0M731.7 258.1h0M732.0 262.6h0M732.2 263.2h0M732.3 259.9h0M732.5 259.2h0M732.6 263.0h0M732.9 259.3h0M733.1 259.2h0M733.2 264.5h0M733.5 259.2h0M733.7 264.7h0M733.8 263.4h0M734.0 259.0h0M734.1 259.7h0M734.3 263.1h0M734.7 261.7h0M734.9 259.8h0M735.0 262.5h0M735.2 259.0h0M735.3 262.7h0M735.5 259.7h0M735.6 261.4h0M735.8 259.9h0M735.9 260.2h0M736.1 259.8h0M736.2 261.1h0M736.4 259.7h0M736.5 261.2h0M736.7 261.3h0M736.8 260.4h0M737.0 261.4h0M737.1 261.0h0M737.3 260.3h0M737.4 261.5h0M737.6 261.3h0M737.7 260.7h0M737.9 261.5h0M738.0 262.5h0M738.2 259.3h0M738.3 260.6h0M738.5 263.1h0M738.8 263.8h0M738.9 266.0h0M739.1 259.6h0M739.4 259.0h0M739.5 257.5h0M740.0 258.9h0M740.3 266.2h0M740.7 265.8h0M740.9 259.2h0M741.2 264.1h0M741.3 259.5h0M741.8 259.6h0M742.1 259.6h0M743.0 263.8h0M743.1 259.3h0M743.4 265.6h0M744.0 260.2h0M744.2 263.2h0M744.6 263.6h0M744.8 264.7h0M744.9 258.7h0M745.1 260.8h0M745.4 258.7h0M745.5 263.6h0M745.7 265.7h0M745.8 263.9h0M746.0 265.3h0" stroke="#00009b" stroke-width="5.8" stroke-linecap="round" fill="none"/>
<path d="M752.8 257.4L753.3 257.5L753.8 257.6L754.3 257.7L754.8 257.7L755.3 257.7L755.8 257.7L756.3 257.7L756.8 257.6L757.3 257.6L757.8 257.5L758.3 257.4L758.8 257.4L759.3 257.3L759.8 257.3L760.3 257.3L760.8 257.3L761.3 257.3L761.8 257.3L762.3 257.3L762.8 257.2L763.3 257.2L763.8 257.2L764.3 257.3L764.8 257.4L765.3 257.5L765.8 257.6L766.3 257.7L766.8 257.7L767.3 257.8L767.8 257.8L768.3 257.9L768.8 258.1L769.3 258.3L769.8 258.6L770.3 258.9L770.8 259.0L771.3 259.1L771.8 259.1L772.3 259.1L772.8 259.0L773.3 259.0L773.8 258.9L774.3 258.8L774.8 258.8L775.3 258.8L775.8 258.8L776.3 258.8L776.8 258.8L777.3 258.8L777.8 258.7L778.3 258.7L778.8 258.7L779.3 258.7L779.8 258.7L780.3 258.6L780.8 258.4L781.3 258.2L781.8 258.0L782.3 257.8L782.8 257.6L783.3 257.5L783.8 257.5L784.3 257.6L784.8 257.7L785.3 257.8L785.8 258.0L786.3 258.1L786.8 258.2L787.3 258.2L787.8 258.2L788.3 258.2L788.8 258.1L789.3 258.0L789.8 257.9L790.3 257.8L790.8 257.7L791.3 257.7L791.8 257.7L792.3 257.7L792.8 257.7L793.3 257.7L793.8 257.6L794.3 257.6L794.8 257.6L795.3 257.6L795.8 257.6L796.3 257.6L796.8 257.6L797.3 257.6L797.8 257.6L798.3 257.6L798.8 257.6L799.3 257.6L799.8 257.6L800.3 257.6L800.8 257.6L801.3 257.7L801.8 257.7L802.3 257.7L802.8 257.8L803.3 257.8L803.8 257.8L804.3 258.0L804.8 258.2L805.3 258.6L805.8 258.9L806.3 259.3L806.8 259.5L807.3 259.6L807.8 259.6L808.3 259.6L808.8 259.6L809.3 259.6L809.8 259.5L810.3 259.5L810.8 259.4L811.3 259.4L811.8 259.4L812.3 259.4L812.8 259.4L813.3 259.4L813.8 259.4L814.3 259.4L814.8 259.4L815.3 259.5L815.8 259.5L816.3 259.5L816.8 259.5L817.3 259.5L817.8 259.5L818.3 259.5L818.8 259.5L819.3 259.5L819.8 259.5L820.3 259.4L820.8 259.2L821.3 259.0L821.8 258.7L822.3 258.5L822.8 258.3L823.3 258.2L823.8 258.2L824.3 258.3L824.8 258.3L825.3 258.4L825.8 258.4L826.3 258.5L826.8 258.5L827.3 258.5L827.8 258.5L828.3 258.6L828.8 258.7L829.3 258.9L829.8 259.0L830.3 259.1L830.8 259.3L831.3 259.3L831.8 259.3L832.3 259.4L832.8 259.4L833.3 259.5L833.8 259.5L834.3 259.6L834.8 259.6L835.3 259.7L835.8 259.7L836.3 259.7L836.8 259.8L837.3 259.8L837.8 259.9L838.3 260.0L838.8 260.0L839.3 260.1L839.8 260.1L840.3 260.1L840.8 260.1L841.3 260.1L841.8 260.2L842.3 260.2L842.8 260.2L843.3 260.2L843.8 260.2L844.3 260.1L844.8 259.8L845.3 259.5L845.8 259.2L846.3 258.9L846.8 258.6L847.3 258.5L847.8 258.5L848.3 258.6L848.8 258.8L849.3 258.9L849.8 259.1L850.3 259.3L850.8 259.5L851.3 259.5L851.8 259.6L852.3 259.6L852.8 259.6L853.3 259.6L853.8 259.7L854.3 259.7L854.8 259.8L855.3 259.8L855.8 259.8L856.3 259.7L856.8 259.7L857.3 259.6L857.8 259.5L858.3 259.5L858.8 259.4L859.3 259.4L859.8 259.4L860.3 259.4L860.8 259.3L861.3 259.2L861.8 259.1L862.3 259.0L862.8 258.9L863.3 258.8L863.8 258.9L864.3 258.9L864.8 259.0L865.3 259.1L865.8 259.2L866.3 259.3L866.8 259.4L867.3 259.4L867.8 259.4L868.3 259.4L868.8 259.3L869.3 259.1L869.8 259.0L870.3 258.9L870.8 258.8L871.3 258.8L871.8 258.8L872.3 258.9L872.8 259.2L873.3 259.6L873.8 259.9L874.3 260.3L874.8 260.5L875.3 260.7L875.8 260.7L876.3 260.7L876.8 260.6L877.3 260.6L877.8 260.6L878.3 260.5L878.8 260.5L879.3 260.5L879.8 260.5L880.3 260.4L880.8 260.3L881.3 260.1L881.8 259.9L882.3 259.8L882.8 259.7L883.3 259.6L883.8 259.6L884.3 259.5L884.8 259.5L885.3 260.9L885.8 263.3L886.3 264.2L886.8 264.1L887.3 264.1L887.8 264.1L888.3 264.2L888.8 264.4L889.3 264.7L889.8 265.0L890.3 265.3L890.8 265.5L891.3 265.6L891.8 265.6L892.3 265.5L892.8 265.4L893.3 265.2L893.8 265.0L894.3 264.8L894.8 264.7L895.3 264.7L895.8 264.7L896.3 264.7L896.8 264.9L897.3 265.0L897.8 265.2L898.3 265.3L898.8 265.5L899.3 265.5L899.8 265.5L900.3 264.4L900.8 262.5L901.3 261.7L901.8 261.7L902.3 261.6L902.8 261.6L903.3 261.6L903.8 261.6L904.3 261.5L904.8 261.4L905.3 261.2L905.8 261.1L906.3 260.9L906.8 260.8L907.3 260.7L907.8 260.7L908.3 260.7L908.8 260.6L909.3 260.6L909.8 260.6L910.3 260.5L910.8 260.5L911.3 260.5L911.8 260.5L912.3 260.5L912.8 260.6L913.3 260.7L913.8 260.8L914.3 260.8L914.8 260.9L915.3 260.9L915.8 260.9L916.3 260.9L916.8 260.8L917.3 260.8L917.8 260.7L918.3 260.6L918.8 260.6L919.3 260.5L919.8 260.5L920.3 260.5L920.8 260.4L921.3 260.3L921.8 260.2L922.3 260.1L922.8 260.1L923.3 260.0L923.8 260.0L924.3 260.1L924.8 260.1L925.3 260.1L925.8 260.2L926.3 260.2L926.8 260.3L927.3 260.3L927.8 260.3L928.3 260.4L928.8 260.6L929.3 260.8L929.8 261.0L930.3 261.3L930.8 261.4L931.3 261.5L931.8 261.6L932.3 261.6L932.8 261.4L933.3 261.1L933.8 260.8L934.3 260.5L934.8 260.3L935.3 260.2L935.8 260.2L936.3 260.5L936.8 261.0L937.3 261.3L937.8 261.3L938.3 261.4L938.8 261.4L939.3 261.5L939.8 261.5L940.3 261.7L940.8 261.9L941.3 262.1L941.8 262.4L942.3 263.0L942.8 263.9L943.3 264.3L943.8 264.3L944.3 264.2L944.8 264.1L945.3 264.0L945.8 263.8L946.3 263.7L946.8 263.6L947.3 263.5L947.8 263.5L948.3 263.6L948.8 263.7L949.3 263.8L949.8 263.9L950.3 264.0L950.8 264.0L951.3 264.1L951.8 264.1L952.3 264.0L952.8 264.0L952.8 274.4L952.3 274.5L951.8 274.6L951.3 274.6L950.8 274.7L950.3 274.7L949.8 274.7L949.3 274.7L948.8 274.7L948.3 274.8L947.8 274.8L947.3 274.8L946.8 274.8L946.3 274.8L945.8 274.8L945.3 274.8L944.8 274.8L944.3 274.8L943.8 274.8L943.3 274.8L942.8 274.1L942.3 272.4L941.8 271.4L941.3 271.4L940.8 271.3L940.3 271.3L939.8 271.3L939.3 271.3L938.8 271.3L938.3 271.2L937.8 271.1L937.3 271.1L936.8 271.6L936.3 273.2L935.8 274.2L935.3 274.2L934.8 274.1L934.3 273.9L933.8 273.6L933.3 273.3L932.8 272.7L932.3 271.7L931.8 270.7L931.3 269.9L930.8 269.5L930.3 269.8L929.8 270.2L929.3 270.6L928.8 270.9L928.3 271.2L927.8 271.4L927.3 271.4L926.8 271.4L926.3 271.4L925.8 271.3L925.3 271.3L924.8 271.2L924.3 271.2L923.8 271.2L923.3 271.2L922.8 271.1L922.3 271.1L921.8 271.1L921.3 271.1L920.8 271.1L920.3 271.0L919.8 271.0L919.3 271.0L918.8 270.9L918.3 270.8L917.8 270.6L917.3 270.4L916.8 270.2L916.3 270.1L915.8 270.0L915.3 270.0L914.8 270.1L914.3 270.3L913.8 270.5L913.3 270.8L912.8 271.0L912.3 271.2L911.8 271.3L911.3 271.3L910.8 271.4L910.3 271.4L909.8 271.4L909.3 271.4L908.8 271.4L908.3 271.5L907.8 271.5L907.3 271.5L906.8 271.5L906.3 271.5L905.8 271.5L905.3 271.5L904.8 271.6L904.3 272.0L903.8 272.3L903.3 272.7L902.8 273.0L902.3 273.3L901.8 273.6L901.3 273.8L900.8 274.1L900.3 274.3L899.8 274.4L899.3 274.4L898.8 274.3L898.3 274.0L897.8 273.7L897.3 273.4L896.8 273.1L896.3 272.9L895.8 272.7L895.3 272.7L894.8 272.8L894.3 273.0L893.8 273.3L893.3 273.6L892.8 273.9L892.3 274.1L891.8 274.3L891.3 274.3L890.8 274.3L890.3 274.4L889.8 274.4L889.3 274.5L888.8 274.6L888.3 274.7L887.8 274.7L887.3 274.7L886.8 274.6L886.3 274.6L885.8 274.5L885.3 274.4L884.8 274.3L884.3 274.2L883.8 274.1L883.3 274.1L882.8 274.1L882.3 274.2L881.8 274.2L881.3 274.3L880.8 274.4L880.3 274.4L879.8 274.5L879.3 274.5L878.8 274.4L878.3 274.4L877.8 274.4L877.3 274.3L876.8 274.3L876.3 274.2L875.8 274.2L875.3 274.2L874.8 274.1L874.3 273.9L873.8 273.7L873.3 273.4L872.8 273.2L872.3 273.0L871.8 272.8L871.3 272.8L870.8 272.8L870.3 272.9L869.8 273.0L869.3 273.1L868.8 273.2L868.3 273.2L867.8 273.3L867.3 273.3L866.8 273.2L866.3 273.0L865.8 271.9L865.3 269.4L864.8 267.8L864.3 267.7L863.8 267.6L863.3 267.6L862.8 267.7L862.3 267.9L861.8 268.2L861.3 268.4L860.8 268.7L860.3 268.9L859.8 269.0L859.3 269.0L858.8 269.0L858.3 268.9L857.8 268.7L857.3 268.5L856.8 268.4L856.3 268.2L855.8 268.2L855.3 268.2L854.8 268.1L854.3 268.0L853.8 267.9L853.3 267.8L852.8 267.7L852.3 267.6L851.8 267.6L851.3 267.6L850.8 267.7L850.3 268.0L849.8 268.3L849.3 268.6L848.8 268.9L848.3 269.2L847.8 269.3L847.3 269.4L846.8 269.4L846.3 269.4L845.8 269.5L845.3 269.6L844.8 269.6L844.3 269.7L843.8 269.7L843.3 269.7L842.8 269.6L842.3 269.3L841.8 268.9L841.3 268.5L840.8 268.2L840.3 267.9L839.8 267.7L839.3 267.7L838.8 267.7L838.3 267.8L837.8 267.9L837.3 268.1L836.8 268.2L836.3 268.3L835.8 268.4L835.3 268.4L834.8 268.3L834.3 268.3L833.8 268.1L833.3 268.0L832.8 267.9L832.3 267.8L831.8 267.7L831.3 267.7L830.8 267.8L830.3 267.8L829.8 267.8L829.3 267.9L828.8 267.9L828.3 268.0L827.8 268.0L827.3 268.0L826.8 268.1L826.3 268.2L825.8 268.3L825.3 268.4L824.8 268.6L824.3 268.7L823.8 268.7L823.3 268.8L822.8 268.9L822.3 269.0L821.8 269.3L821.3 269.5L820.8 269.8L820.3 270.0L819.8 270.1L819.3 270.1L818.8 270.1L818.3 270.0L817.8 269.9L817.3 269.8L816.8 269.7L816.3 269.6L815.8 269.6L815.3 269.6L814.8 269.7L814.3 269.7L813.8 269.9L813.3 270.0L812.8 270.1L812.3 270.2L811.8 270.2L811.3 270.3L810.8 270.3L810.3 270.2L809.8 270.2L809.3 270.2L808.8 270.1L808.3 270.1L807.8 270.1L807.3 270.1L806.8 270.2L806.3 270.2L805.8 270.3L805.3 270.3L804.8 270.3L804.3 270.4L803.8 270.4L803.3 270.4L802.8 270.4L802.3 270.3L801.8 270.2L801.3 270.0L800.8 269.9L800.3 269.8L799.8 269.7L799.3 269.7L798.8 269.7L798.3 269.7L797.8 269.6L797.3 269.5L796.8 269.4L796.3 269.4L795.8 269.3L795.3 269.3L794.8 269.4L794.3 269.6L793.8 269.8L793.3 270.0L792.8 270.3L792.3 270.4L791.8 270.5L791.3 270.6L790.8 270.6L790.3 270.6L789.8 270.6L789.3 270.7L788.8 270.7L788.3 270.7L787.8 270.8L787.3 270.8L786.8 270.8L786.3 270.8L785.8 270.8L785.3 270.7L784.8 270.7L784.3 270.7L783.8 270.7L783.3 270.7L782.8 270.6L782.3 270.4L781.8 270.0L781.3 269.7L780.8 269.3L780.3 269.1L779.8 268.9L779.3 268.9L778.8 269.0L778.3 269.1L777.8 269.3L777.3 269.5L776.8 269.6L776.3 269.8L775.8 269.9L775.3 269.9L774.8 269.9L774.3 270.0L773.8 270.0L773.3 270.1L772.8 270.2L772.3 270.3L771.8 270.3L771.3 270.3L770.8 270.2L770.3 270.0L769.8 269.8L769.3 269.6L768.8 269.4L768.3 269.3L767.8 269.2L767.3 269.1L766.8 269.2L766.3 269.3L765.8 269.4L765.3 269.6L764.8 269.8L764.3 269.9L763.8 269.9L763.3 269.9L762.8 269.9L762.3 269.9L761.8 269.9L761.3 270.0L760.8 270.0L760.3 270.0L759.8 269.9L759.3 269.8L758.8 269.7L758.3 269.5L757.8 269.2L757.3 269.0L756.8 268.7L756.3 268.5L755.8 268.4L755.3 268.3L754.8 268.2L754.3 268.2L753.8 268.3L753.3 268.4L752.8 268.4Z" fill="#00009b"/>
<path d="M755.0 267.1h0M755.2 258.7h0M755.5 266.3h0M755.9 266.1h0M756.1 266.1h0M756.5 267.9h0M757.9 268.4h0M758.2 266.8h0M758.5 267.5h0M758.9 258.0h0M759.5 269.2h0M760.0 260.1h0M760.1 258.3h0M760.3 259.6h0M760.4 258.6h0M760.6 258.5h0M761.2 268.6h0M761.3 259.5h0M761.5 269.1h0M761.8 268.6h0M762.1 268.8h0M762.8 260.1h0M763.1 258.5h0M763.3 268.5h0M764.0 258.0h0M764.2 258.5h0M764.8 268.2h0M764.9 259.8h0M765.1 259.4h0M765.7 260.3h0M766.0 266.4h0M766.1 260.1h0M766.7 259.6h0M766.9 268.4h0M767.2 266.8h0M767.5 259.4h0M767.6 267.2h0M768.1 259.1h0M768.4 266.9h0M768.5 266.5h0M768.7 266.5h0M768.8 261.3h0M769.0 258.9h0M769.1 266.4h0M769.3 268.5h0M769.4 266.7h0M769.7 268.8h0M770.6 267.5h0M770.9 267.9h0M771.1 268.7h0M771.2 261.9h0M771.4 267.4h0M771.7 261.3h0M772.1 261.2h0M773.0 259.9h0M773.3 260.8h0M773.5 261.9h0M773.6 269.1h0M774.1 268.1h0M774.2 260.4h0M774.4 261.9h0M774.7 267.7h0M774.8 268.4h0M775.0 261.4h0M775.1 267.8h0M775.6 267.8h0M775.7 268.7h0M775.9 267.2h0M776.0 268.8h0M776.2 261.8h0M776.8 259.9h0M776.9 268.2h0M777.2 262.0h0M777.7 268.6h0M778.1 259.4h0M778.3 266.0h0M778.4 267.0h0M778.6 260.2h0M778.9 268.2h0M779.5 261.4h0M779.6 260.4h0M779.9 259.9h0M780.2 261.7h0M780.4 266.5h0M780.7 259.3h0M780.8 260.1h0M781.4 268.0h0M781.6 268.8h0M781.9 258.9h0M782.0 267.8h0M782.3 267.6h0M782.8 258.7h0M783.4 269.1h0M784.0 270.1h0M785.0 270.1h0M786.2 259.2h0M786.4 259.3h0M787.6 269.6h0M787.7 268.6h0M787.9 268.7h0M788.0 261.0h0M788.3 259.3h0M788.5 269.9h0M788.8 259.3h0M789.2 259.9h0M789.8 260.9h0M790.6 260.0h0M790.7 267.6h0M791.5 269.2h0M792.1 268.0h0M792.2 269.7h0M792.5 268.5h0M792.7 258.4h0M793.1 269.5h0M793.4 258.3h0M793.6 259.0h0M793.7 268.3h0M794.0 259.8h0M794.2 267.3h0M794.3 266.5h0M794.8 259.3h0M794.9 258.5h0M795.1 268.0h0M795.5 268.5h0M795.8 268.5h0M796.0 260.2h0M796.1 268.7h0M796.3 268.7h0M796.4 259.1h0M796.6 260.7h0M796.7 259.2h0M796.9 260.3h0M797.2 266.6h0M797.5 268.2h0M797.8 259.4h0M798.8 258.4h0M799.0 269.0h0M799.1 268.8h0M799.3 268.8h0M800.5 259.1h0M800.6 269.1h0M801.1 260.2h0M801.2 266.9h0M801.4 267.4h0M801.7 269.4h0M802.1 269.1h0M802.4 258.7h0M802.9 269.8h0M803.3 269.4h0M803.5 259.4h0M803.6 259.2h0M803.9 268.5h0M804.2 268.3h0M804.8 269.1h0M805.9 268.8h0M806.2 267.5h0M806.8 260.6h0M806.9 267.3h0M807.2 269.0h0M807.4 267.3h0M807.7 261.0h0M809.6 267.2h0M809.8 268.9h0M810.1 260.6h0M810.2 269.1h0M810.4 269.4h0M811.0 268.7h0M811.1 262.2h0M811.3 262.0h0M811.4 260.6h0M811.9 261.1h0M812.2 262.1h0M812.6 260.2h0M813.2 266.8h0M814.0 261.7h0M814.1 268.0h0M814.6 260.5h0M814.7 268.5h0M815.0 268.9h0M815.2 267.6h0M815.5 266.8h0M815.9 261.8h0M816.2 266.6h0M816.4 262.0h0M817.0 269.0h0M817.7 268.2h0M817.9 267.3h0M818.2 268.2h0M818.6 268.4h0M818.8 261.6h0M818.9 262.5h0M819.4 260.7h0M820.1 267.8h0M820.4 268.4h0M820.7 266.9h0M821.0 261.1h0M821.2 268.5h0M821.6 267.2h0M821.8 261.3h0M822.7 266.5h0M822.8 261.0h0M823.4 259.7h0M823.6 268.0h0M823.9 268.0h0M824.0 266.8h0M824.2 260.6h0M824.3 261.3h0M824.8 259.4h0M825.1 261.2h0M825.4 260.9h0M825.5 259.1h0M825.8 266.1h0M826.0 266.6h0M826.3 266.4h0M826.4 259.3h0M826.6 265.8h0M826.9 265.7h0M827.2 265.1h0M827.5 266.9h0M827.6 259.2h0M827.8 265.0h0M827.9 267.4h0M828.4 265.4h0M828.7 260.7h0M829.0 266.3h0M829.1 265.3h0M829.3 261.7h0M829.4 260.4h0M829.6 260.4h0M830.2 262.3h0M830.5 266.6h0M830.6 265.8h0M830.9 265.3h0M831.2 266.5h0M831.4 265.9h0M831.5 265.7h0M831.7 266.7h0M831.8 265.9h0M832.1 260.8h0M832.3 261.9h0M832.6 261.2h0M832.7 266.6h0M832.9 260.9h0M833.3 266.9h0M833.5 265.0h0M833.6 266.1h0M833.8 262.2h0M833.9 261.5h0M834.1 261.3h0M834.2 262.4h0M834.4 265.9h0M834.5 267.5h0M834.8 260.5h0M835.1 265.7h0M835.4 265.8h0M835.7 265.5h0M835.9 262.1h0M836.2 261.7h0M836.3 266.5h0M836.5 262.2h0M836.6 267.5h0M836.8 262.0h0M836.9 267.2h0M837.1 267.1h0M837.2 267.0h0M837.7 262.4h0M837.8 261.7h0M838.1 265.4h0M838.3 265.9h0M838.7 266.1h0M839.0 262.2h0M839.2 266.9h0M839.3 265.7h0M839.8 266.8h0M840.2 261.4h0M840.4 265.9h0M840.7 262.2h0M840.8 266.8h0M841.0 266.3h0M841.4 261.4h0M841.6 261.0h0M842.0 262.3h0M842.2 266.8h0M843.1 260.9h0M843.5 261.2h0M843.7 262.3h0M843.8 261.1h0M844.3 269.1h0M844.4 262.2h0M844.6 266.8h0M844.7 261.1h0M844.9 260.8h0M845.2 267.2h0M845.3 262.0h0M845.5 260.4h0M845.6 260.0h0M846.1 267.1h0M846.2 261.3h0M846.8 267.1h0M847.3 261.2h0M848.3 259.2h0M848.5 259.7h0M848.9 265.8h0M849.2 268.0h0M849.4 260.3h0M849.7 267.6h0M850.0 267.4h0M850.3 262.1h0M850.4 265.8h0M850.7 260.1h0M851.0 260.4h0M851.3 266.5h0M851.5 264.7h0M851.6 266.4h0M852.1 266.7h0M852.2 262.4h0M852.4 266.9h0M852.5 264.7h0M852.7 265.9h0M852.8 266.9h0M853.0 265.2h0M853.1 261.3h0M853.6 265.9h0M854.0 260.8h0M854.3 267.0h0M854.5 262.9h0M854.8 265.4h0M855.2 262.5h0M855.4 266.5h0M855.7 262.3h0M855.8 266.3h0M856.0 260.9h0M856.1 262.3h0M856.3 265.8h0M857.2 265.5h0M857.3 262.4h0M857.6 260.5h0M857.9 266.0h0M858.1 261.7h0M858.4 268.1h0M858.5 266.3h0M858.7 267.7h0M858.8 260.6h0M859.1 260.2h0M859.3 260.1h0M859.4 266.3h0M860.0 266.7h0M860.2 266.2h0M860.3 261.7h0M860.6 262.1h0M860.8 262.2h0M861.2 262.3h0M861.4 266.3h0M861.7 260.1h0M861.8 261.6h0M862.0 267.0h0M862.1 261.5h0M862.4 259.5h0M862.7 261.1h0M862.9 260.0h0M863.5 265.4h0M863.6 261.3h0M863.8 265.0h0M864.1 265.5h0M864.2 264.5h0M864.4 265.7h0M864.5 265.0h0M864.8 267.1h0M865.0 265.1h0M865.1 267.8h0M865.4 268.9h0M865.6 261.5h0M866.0 269.9h0M866.8 271.8h0M867.8 262.0h0M868.6 260.4h0M868.9 262.1h0M869.0 272.2h0M869.3 260.2h0M869.9 260.5h0M870.1 271.9h0M870.2 260.8h0M870.4 260.3h0M871.0 261.4h0M871.4 269.8h0M872.6 270.0h0M873.2 270.6h0M875.0 262.0h0M875.2 273.3h0M876.7 273.4h0M877.0 271.2h0M877.3 263.0h0M877.4 272.7h0M877.6 272.8h0M877.7 271.5h0M878.0 271.9h0M878.2 262.0h0M878.6 262.0h0M879.2 262.0h0M879.4 263.6h0M879.7 273.0h0M880.4 261.4h0M880.6 273.7h0M881.3 260.8h0M882.2 271.0h0M882.4 272.2h0M883.0 271.2h0M883.3 273.5h0M883.4 271.6h0M883.7 272.7h0M883.9 261.3h0M884.0 271.5h0M884.2 262.4h0M885.5 273.1h0M885.7 265.0h0M886.0 266.1h0M886.1 264.8h0M886.4 267.1h0M886.6 267.1h0M886.7 265.5h0M886.9 271.8h0M887.2 265.1h0M887.6 273.0h0M887.8 265.4h0M887.9 273.4h0M888.4 266.5h0M888.5 267.0h0M888.7 273.6h0M889.0 265.8h0M889.3 266.1h0M889.6 265.6h0M889.7 272.7h0M890.0 265.8h0M890.2 271.2h0M890.5 271.4h0M890.8 272.1h0M890.9 271.5h0M891.2 271.4h0M891.7 268.2h0M891.8 271.2h0M892.3 267.2h0M892.6 270.8h0M892.7 271.5h0M892.9 268.2h0M893.0 271.1h0M893.2 266.8h0M893.5 267.0h0M893.8 267.2h0M893.9 267.5h0M894.1 271.3h0M894.2 271.2h0M894.4 265.8h0M894.5 271.1h0M894.7 267.1h0M895.0 266.1h0M895.1 265.8h0M895.3 267.1h0M895.4 266.4h0M895.6 270.1h0M895.9 271.0h0M896.5 270.1h0M896.8 267.4h0M897.2 268.0h0M897.4 266.8h0M897.5 265.9h0M897.7 273.0h0M897.8 267.5h0M898.0 272.2h0M898.4 272.1h0M898.7 266.1h0M899.0 271.3h0M899.2 273.5h0M899.3 271.6h0M900.4 265.1h0M900.5 266.0h0M900.8 265.4h0M901.1 264.8h0M901.3 272.1h0M901.4 272.8h0M901.6 272.2h0M901.9 272.3h0M902.5 272.2h0M902.9 262.7h0M903.2 262.9h0M903.4 270.6h0M903.7 270.4h0M904.3 263.8h0M904.6 262.4h0M904.9 263.4h0M905.3 263.1h0M906.2 263.9h0M906.7 263.7h0M907.0 269.6h0M907.1 262.8h0M907.4 268.3h0M907.7 262.9h0M908.3 261.8h0M909.5 269.8h0M909.7 268.7h0M909.8 270.5h0M910.4 263.6h0M910.7 270.5h0M910.9 268.2h0M911.0 261.1h0M911.2 268.5h0M911.5 263.6h0M911.9 263.7h0M912.4 262.0h0M912.8 262.6h0M913.7 268.5h0M914.0 263.9h0M914.2 262.8h0M914.5 268.4h0M914.9 263.8h0M915.4 267.5h0M915.5 268.3h0M915.7 262.5h0M916.0 263.8h0M916.1 263.9h0M916.4 263.4h0M916.6 262.1h0M916.7 263.5h0M916.9 264.0h0M917.0 269.6h0M917.2 269.1h0M917.3 261.9h0M917.9 268.4h0M918.5 261.2h0M919.1 262.1h0M919.4 270.0h0M919.6 269.0h0M919.7 261.5h0M919.9 269.3h0M920.0 269.8h0M920.9 268.6h0M921.8 270.3h0M922.0 261.5h0M922.1 261.9h0M922.4 269.9h0M922.6 261.2h0M922.7 270.5h0M923.0 261.0h0M923.2 268.7h0M923.6 268.4h0M923.9 260.9h0M924.2 261.2h0M924.8 262.3h0M925.6 263.2h0M925.7 268.7h0M926.2 268.3h0M927.1 261.9h0M927.2 262.7h0M927.5 270.1h0M929.0 263.3h0M929.2 269.4h0M929.3 263.9h0M929.5 263.0h0M929.8 262.6h0M930.1 267.2h0M930.4 269.0h0M930.5 268.9h0M930.7 263.8h0M930.8 263.7h0M931.0 266.9h0M931.4 264.1h0M931.6 263.8h0M931.7 264.4h0M932.2 270.4h0M932.6 270.5h0M932.8 262.4h0M933.2 270.2h0M933.5 262.1h0M933.7 262.2h0M934.1 261.6h0M934.7 262.2h0M934.9 261.5h0M935.3 271.1h0M935.5 262.4h0M935.6 271.7h0M936.4 271.6h0M936.5 261.9h0M936.7 261.8h0M937.0 262.0h0M937.1 269.3h0M937.3 270.0h0M937.4 263.3h0M937.6 270.2h0M938.0 263.1h0M938.2 263.5h0M938.3 262.0h0M938.5 269.6h0M938.6 264.0h0M938.8 263.5h0M939.1 262.2h0M939.2 270.5h0M939.5 262.6h0M939.7 268.7h0M939.8 268.1h0M940.0 262.3h0M940.1 270.5h0M940.3 264.4h0M940.4 268.8h0M940.6 269.0h0M940.7 264.6h0M941.0 264.3h0M941.2 262.9h0M941.3 268.6h0M941.6 270.3h0M941.8 270.5h0M941.9 263.2h0M942.1 271.1h0M943.1 267.2h0M943.4 265.7h0M943.6 266.2h0M943.9 266.3h0M944.0 273.9h0M944.8 265.8h0M944.9 273.6h0M945.1 265.1h0M945.7 273.1h0M946.3 265.9h0M947.0 274.0h0M947.3 266.3h0M947.5 266.5h0M947.8 265.8h0M947.9 264.5h0M948.1 264.5h0M948.4 266.2h0M948.7 273.8h0M949.3 273.3h0M949.4 265.6h0M949.7 273.5h0M949.9 266.1h0M950.0 265.2h0M950.3 266.9h0" stroke="#00009b" stroke-width="5.8" stroke-linecap="round" fill="none"/>
<path d="M521.3 554.1L521.8 554.2L522.3 554.2L522.8 554.3L523.3 554.3L523.8 554.3L524.3 554.3L524.8 554.4L525.3 554.5L525.8 554.6L526.3 554.7L526.8 554.8L527.3 554.8L527.8 554.9L528.3 554.9L528.8 554.8L529.3 554.8L529.8 554.7L530.3 554.6L530.8 554.5L531.3 554.4L531.8 554.4L532.3 554.4L532.8 554.4L533.3 554.5L533.8 554.6L534.3 554.8L534.8 554.9L535.3 555.0L535.8 555.0L536.3 555.0L536.8 554.8L537.3 554.6L537.8 554.2L538.3 553.9L538.8 553.5L539.3 553.3L539.8 553.2L540.3 553.2L540.8 553.3L541.3 553.4L541.8 553.5L542.3 553.6L542.8 553.8L543.3 553.9L543.8 553.9L544.3 554.0L544.8 554.1L545.3 554.3L545.8 554.6L546.3 554.8L546.8 555.1L547.3 555.3L547.8 555.4L548.3 555.4L548.8 555.3L549.3 555.2L549.8 555.0L550.3 554.9L550.8 554.7L551.3 554.6L551.8 554.6L552.3 554.6L552.8 554.6L553.3 554.7L553.8 554.9L554.3 555.0L554.8 555.1L555.3 555.2L555.8 555.3L556.3 555.3L556.8 555.1L557.3 554.9L557.8 554.5L558.3 554.2L558.8 553.9L559.3 553.6L559.8 553.5L560.3 553.5L560.8 553.5L561.3 553.6L561.8 553.7L562.3 553.9L562.8 554.0L563.3 554.1L563.8 554.1L564.3 554.1L564.8 554.1L565.3 554.0L565.8 553.9L566.3 553.8L566.8 553.8L567.3 553.7L567.8 553.7L568.3 553.7L568.8 553.7L569.3 553.8L569.8 553.9L570.3 554.0L570.8 554.2L571.3 554.2L571.8 554.3L572.3 554.3L572.8 554.3L573.3 554.3L573.8 554.3L574.3 554.3L574.8 554.3L575.3 554.4L575.8 554.4L576.3 554.3L576.8 554.3L577.3 554.1L577.8 554.0L578.3 553.8L578.8 553.6L579.3 553.5L579.8 553.4L580.3 553.4L580.8 553.4L581.3 553.5L581.8 553.5L582.3 553.5L582.8 553.6L583.3 553.6L583.8 553.6L584.3 553.6L584.8 553.6L585.3 553.6L585.8 553.7L586.3 553.7L586.8 553.7L587.3 553.7L587.8 553.7L588.3 553.7L588.8 553.9L589.3 554.1L589.8 554.4L590.3 554.7L590.8 555.0L591.3 555.2L591.8 555.3L592.3 555.3L592.8 555.3L593.3 555.2L593.8 555.1L594.3 555.0L594.8 555.0L595.3 554.9L595.8 554.9L596.3 554.9L596.8 554.7L597.3 554.6L597.8 554.3L598.3 554.1L598.8 553.8L599.3 553.6L599.8 553.5L600.3 553.6L600.8 553.7L601.3 553.9L601.8 554.1L602.3 554.4L602.8 554.7L603.3 554.9L603.8 555.0L604.3 554.9L604.8 554.8L605.3 554.6L605.8 554.4L606.3 554.1L606.8 553.8L607.3 553.6L607.8 553.5L608.3 553.5L608.8 553.6L609.3 553.7L609.8 553.9L610.3 554.1L610.8 554.3L611.3 554.4L611.8 554.5L612.3 554.5L612.8 554.4L613.3 554.2L613.8 554.1L614.3 553.9L614.8 553.7L615.3 553.6L615.8 553.5L616.3 553.5L616.8 553.5L617.3 553.5L617.8 553.5L618.3 553.4L618.8 553.4L619.3 553.4L619.8 553.4L620.3 553.4L620.8 553.6L621.3 553.8L621.8 554.2L622.3 554.5L622.8 554.8L623.3 555.1L623.8 555.2L624.3 555.2L624.8 555.0L625.3 554.8L625.8 554.5L626.3 554.2L626.8 553.9L627.3 553.7L627.8 553.6L628.3 553.6L628.8 553.6L629.3 553.6L629.8 553.6L630.3 553.8L630.8 554.2L631.3 554.3L631.8 554.3L632.3 554.3L632.8 554.5L633.3 554.8L633.8 555.1L634.3 555.5L634.8 555.8L635.3 556.1L635.8 556.2L636.3 556.2L636.8 556.2L637.3 556.2L637.8 556.1L638.3 556.0L638.8 556.0L639.3 555.9L639.8 555.9L640.3 555.9L640.8 555.8L641.3 555.5L641.8 555.3L642.3 555.0L642.8 554.7L643.3 554.5L643.8 554.5L644.3 554.5L644.8 554.6L645.3 554.9L645.8 555.2L646.3 555.5L646.8 555.8L647.3 556.0L647.8 556.2L648.3 556.2L648.8 556.1L649.3 555.9L649.8 555.7L650.3 555.4L650.8 555.2L651.3 555.1L651.8 555.0L652.3 555.0L652.8 555.0L653.3 555.1L653.8 555.1L654.3 555.2L654.8 555.3L655.3 555.3L655.8 555.3L656.3 555.3L656.8 555.2L657.3 555.1L657.8 554.9L658.3 554.7L658.8 554.5L659.3 554.4L659.8 554.3L660.3 554.3L660.8 554.5L661.3 554.7L661.8 555.1L662.3 555.4L662.8 555.7L663.3 556.0L663.8 556.1L664.3 556.1L664.8 556.0L665.3 556.1L665.8 556.3L666.3 556.5L666.8 556.7L667.3 556.9L667.8 557.2L668.3 557.5L668.8 557.9L669.3 558.3L669.8 558.8L670.3 559.1L670.8 559.2L671.3 559.3L671.8 559.4L672.3 559.4L672.8 559.4L673.3 559.3L673.8 559.3L674.3 559.2L674.8 559.2L675.3 559.2L675.8 559.2L676.3 559.1L676.8 559.0L677.3 558.8L677.8 558.5L678.3 558.2L678.8 558.0L679.3 557.8L679.8 557.7L680.3 557.7L680.8 557.7L681.3 557.7L681.8 557.7L682.3 557.7L682.8 557.8L683.3 557.8L683.8 557.8L684.3 557.8L684.8 557.7L685.3 557.7L685.8 557.6L686.3 557.6L686.8 557.5L687.3 557.5L687.8 557.5L688.3 557.4L688.8 557.4L689.3 557.4L689.8 557.4L690.3 556.9L690.8 555.9L691.3 555.5L691.8 555.5L692.3 555.5L692.8 555.5L693.3 555.5L693.8 555.5L694.3 555.5L694.8 555.5L695.3 555.4L695.8 555.4L696.3 555.4L696.8 555.5L697.3 555.5L697.8 555.6L698.3 555.6L698.8 555.7L699.3 555.7L699.8 555.8L700.3 555.8L700.8 555.8L701.3 555.9L701.8 556.0L702.3 556.2L702.8 556.3L703.3 556.4L703.8 556.4L704.3 556.4L704.8 556.3L705.3 556.2L705.8 556.0L706.3 555.8L706.8 555.6L707.3 555.5L707.8 555.4L708.3 555.4L708.8 555.5L709.3 555.7L709.8 555.9L710.3 556.2L710.8 556.4L711.3 556.5L711.8 556.6L712.3 556.6L712.8 556.6L713.3 556.4L713.8 556.3L714.3 556.1L714.8 556.0L715.3 555.9L715.8 555.8L716.3 555.8L716.8 555.8L717.3 555.8L717.8 555.8L718.3 555.8L718.8 555.8L719.3 555.8L719.8 555.8L720.3 555.8L720.8 555.9L721.3 556.1L721.8 556.3L722.3 556.6L722.8 556.8L723.3 556.9L723.8 557.0L724.3 557.0L724.8 556.9L725.3 556.8L725.8 556.7L726.3 556.5L726.8 556.3L727.3 556.2L727.8 556.1L728.3 556.1L728.8 556.1L729.3 556.1L729.8 556.0L730.3 555.9L730.8 555.9L731.3 555.8L731.8 555.8L732.3 555.8L732.8 555.8L733.3 555.9L733.8 555.9L734.3 556.0L734.8 556.1L735.3 556.3L735.8 556.7L736.3 557.1L736.8 557.6L737.3 558.0L737.8 558.5L738.3 558.6L738.8 558.5L739.3 558.3L739.8 558.1L740.3 558.0L740.8 557.9L741.3 557.8L741.8 557.6L742.3 557.4L742.8 557.2L743.3 557.1L743.8 557.0L744.3 557.1L744.8 557.3L745.3 557.6L745.8 558.0L746.3 558.5L746.8 558.9L747.3 559.2L747.8 559.3L748.3 559.3L748.8 559.1L748.8 564.2L748.3 564.1L747.8 564.1L747.3 564.2L746.8 564.5L746.3 564.8L745.8 565.2L745.3 565.6L744.8 565.9L744.3 566.1L743.8 566.2L743.3 566.3L742.8 566.3L742.3 566.3L741.8 566.3L741.3 566.3L740.8 566.3L740.3 566.3L739.8 566.0L739.3 565.1L738.8 564.3L738.3 563.4L737.8 563.1L737.3 563.5L736.8 563.9L736.3 564.2L735.8 564.5L735.3 564.6L734.8 564.6L734.3 564.4L733.8 564.1L733.3 563.8L732.8 563.6L732.3 563.5L731.8 563.5L731.3 563.5L730.8 563.6L730.3 563.6L729.8 563.7L729.3 563.8L728.8 563.9L728.3 563.9L727.8 563.9L727.3 563.8L726.8 563.7L726.3 563.5L725.8 563.4L725.3 563.2L724.8 563.1L724.3 563.0L723.8 563.0L723.3 563.0L722.8 563.1L722.3 563.2L721.8 563.3L721.3 563.5L720.8 563.6L720.3 563.6L719.8 563.6L719.3 563.7L718.8 563.9L718.3 564.1L717.8 564.4L717.3 564.6L716.8 564.8L716.3 564.9L715.8 564.9L715.3 564.8L714.8 564.6L714.3 564.3L713.8 564.0L713.3 563.7L712.8 563.5L712.3 563.3L711.8 563.3L711.3 563.4L710.8 563.5L710.3 563.7L709.8 563.8L709.3 564.0L708.8 564.1L708.3 564.2L707.8 564.2L707.3 564.3L706.8 564.4L706.3 564.5L705.8 564.7L705.3 564.8L704.8 564.9L704.3 565.0L703.8 565.0L703.3 564.8L702.8 564.6L702.3 564.3L701.8 563.9L701.3 563.5L700.8 563.3L700.3 563.1L699.8 563.1L699.3 563.2L698.8 563.5L698.3 563.8L697.8 564.2L697.3 564.5L696.8 564.8L696.3 564.9L695.8 565.0L695.3 564.9L694.8 564.9L694.3 564.8L693.8 564.6L693.3 564.5L692.8 564.5L692.3 564.4L691.8 564.4L691.3 564.4L690.8 564.9L690.3 566.2L689.8 566.9L689.3 566.9L688.8 566.9L688.3 566.8L687.8 566.8L687.3 566.7L686.8 566.5L686.3 566.3L685.8 566.1L685.3 565.9L684.8 565.7L684.3 565.6L683.8 565.5L683.3 565.6L682.8 565.6L682.3 565.7L681.8 565.8L681.3 565.9L680.8 565.9L680.3 566.0L679.8 565.9L679.3 566.0L678.8 566.0L678.3 566.1L677.8 566.2L677.3 566.3L676.8 566.4L676.3 566.4L675.8 566.4L675.3 566.4L674.8 566.3L674.3 566.2L673.8 566.1L673.3 566.0L672.8 565.9L672.3 565.9L671.8 565.8L671.3 565.8L670.8 565.7L670.3 565.6L669.8 565.5L669.3 565.2L668.8 565.0L668.3 564.8L667.8 564.6L667.3 564.3L666.8 563.9L666.3 563.5L665.8 563.0L665.3 562.6L664.8 562.3L664.3 562.2L663.8 562.2L663.3 562.3L662.8 562.6L662.3 563.0L661.8 563.4L661.3 563.8L660.8 564.1L660.3 564.2L659.8 564.3L659.3 564.3L658.8 564.3L658.3 564.2L657.8 564.2L657.3 564.2L656.8 564.2L656.3 564.2L655.8 564.1L655.3 564.0L654.8 563.7L654.3 563.4L653.8 563.0L653.3 562.6L652.8 562.3L652.3 562.1L651.8 562.1L651.3 562.2L650.8 562.3L650.3 562.5L649.8 562.6L649.3 562.8L648.8 563.0L648.3 563.0L647.8 563.0L647.3 563.1L646.8 563.3L646.3 563.5L645.8 563.7L645.3 563.9L644.8 564.1L644.3 564.2L643.8 564.2L643.3 564.2L642.8 564.2L642.3 564.2L641.8 564.2L641.3 564.2L640.8 564.2L640.3 564.3L639.8 564.3L639.3 564.2L638.8 564.2L638.3 564.2L637.8 564.2L637.3 564.2L636.8 564.1L636.3 564.1L635.8 564.1L635.3 564.1L634.8 564.1L634.3 564.0L633.8 564.0L633.3 564.0L632.8 563.9L632.3 563.9L631.8 563.9L631.3 563.9L630.8 564.0L630.3 564.4L629.8 564.6L629.3 564.6L628.8 564.6L628.3 564.6L627.8 564.6L627.3 564.6L626.8 564.5L626.3 564.4L625.8 564.3L625.3 564.2L624.8 564.2L624.3 564.1L623.8 564.1L623.3 564.0L622.8 563.9L622.3 563.7L621.8 563.5L621.3 563.3L620.8 563.1L620.3 563.1L619.8 563.1L619.3 563.2L618.8 563.4L618.3 563.6L617.8 563.9L617.3 564.2L616.8 564.4L616.3 564.5L615.8 564.6L615.3 564.5L614.8 564.3L614.3 564.0L613.8 563.7L613.3 563.4L612.8 563.2L612.3 563.1L611.8 563.1L611.3 563.1L610.8 563.2L610.3 563.4L609.8 563.6L609.3 563.7L608.8 563.9L608.3 563.9L607.8 564.0L607.3 564.0L606.8 564.1L606.3 564.2L605.8 564.3L605.3 564.4L604.8 564.5L604.3 564.6L603.8 564.6L603.3 564.6L602.8 564.6L602.3 564.7L601.8 564.8L601.3 564.8L600.8 564.9L600.3 564.9L599.8 564.9L599.3 564.8L598.8 564.5L598.3 564.2L597.8 563.8L597.3 563.4L596.8 563.2L596.3 563.0L595.8 563.0L595.3 563.1L594.8 563.4L594.3 563.7L593.8 564.1L593.3 564.5L592.8 564.8L592.3 565.0L591.8 565.0L591.3 564.9L590.8 564.6L590.3 564.3L589.8 564.0L589.3 563.7L588.8 563.4L588.3 563.3L587.8 563.2L587.3 563.3L586.8 563.3L586.3 563.3L585.8 563.4L585.3 563.4L584.8 563.4L584.3 563.4L583.8 563.4L583.3 563.4L582.8 563.5L582.3 563.5L581.8 563.5L581.3 563.5L580.8 563.6L580.3 563.6L579.8 563.6L579.3 563.7L578.8 563.9L578.3 564.1L577.8 564.4L577.3 564.6L576.8 564.8L576.3 564.9L575.8 564.9L575.3 564.8L574.8 564.6L574.3 564.4L573.8 564.1L573.3 563.8L572.8 563.6L572.3 563.5L571.8 563.5L571.3 563.5L570.8 563.6L570.3 563.8L569.8 563.9L569.3 564.0L568.8 564.1L568.3 564.2L567.8 564.2L567.3 564.2L566.8 564.2L566.3 564.3L565.8 564.4L565.3 564.4L564.8 564.5L564.3 564.5L563.8 564.5L563.3 564.5L562.8 564.5L562.3 564.5L561.8 564.5L561.3 564.6L560.8 564.6L560.3 564.6L559.8 564.5L559.3 564.4L558.8 564.2L558.3 564.0L557.8 563.6L557.3 563.4L556.8 563.1L556.3 563.0L555.8 563.0L555.3 563.0L554.8 563.0L554.3 563.0L553.8 563.0L553.3 563.0L552.8 563.0L552.3 563.0L551.8 563.0L551.3 563.1L550.8 563.7L550.3 565.0L549.8 565.9L549.3 566.0L548.8 566.1L548.3 566.1L547.8 566.2L547.3 566.2L546.8 566.4L546.3 566.6L545.8 566.9L545.3 567.1L544.8 567.3L544.3 567.4L543.8 567.4L543.3 567.3L542.8 567.0L542.3 566.7L541.8 566.3L541.3 566.0L540.8 565.7L540.3 565.6L539.8 565.6L539.3 565.7L538.8 565.9L538.3 566.3L537.8 566.6L537.3 567.0L536.8 567.3L536.3 567.4L535.8 567.4L535.3 567.4L534.8 567.5L534.3 567.5L533.8 567.5L533.3 567.5L532.8 567.6L532.3 567.6L531.8 567.6L531.3 567.6L530.8 567.6L530.3 567.6L529.8 567.6L529.3 567.6L528.8 567.6L528.3 567.6L527.8 567.6L527.3 567.5L526.8 567.4L526.3 567.2L525.8 567.0L525.3 566.9L524.8 566.7L524.3 566.6L523.8 566.6L523.3 566.7L522.8 566.7L522.3 566.8L521.8 566.9L521.3 567.0Z" fill="#00009b"/>
<path d="M523.4 564.2h0M523.7 554.9h0M524.6 555.0h0M524.7 565.8h0M524.9 557.4h0M525.6 555.6h0M525.9 555.4h0M526.2 555.8h0M526.4 557.4h0M526.5 565.2h0M526.8 565.1h0M527.1 555.7h0M527.4 566.7h0M528.3 557.7h0M528.6 556.5h0M529.1 557.6h0M529.2 556.5h0M529.7 565.2h0M529.8 555.5h0M530.0 566.6h0M530.6 565.5h0M530.7 555.5h0M531.0 555.5h0M531.6 556.2h0M532.1 556.4h0M532.2 556.5h0M532.4 557.1h0M532.5 556.5h0M533.0 556.0h0M533.4 566.5h0M535.1 557.8h0M535.4 557.6h0M535.8 566.0h0M536.9 565.7h0M537.2 564.4h0M537.6 564.4h0M537.8 565.6h0M538.2 555.5h0M538.7 556.1h0M539.0 564.9h0M539.3 555.1h0M539.4 564.3h0M539.6 562.9h0M540.2 554.4h0M540.3 554.1h0M541.1 563.0h0M541.4 565.1h0M541.8 565.4h0M542.3 564.4h0M542.7 564.5h0M542.9 564.2h0M543.0 564.1h0M543.6 555.4h0M544.1 566.8h0M544.7 566.1h0M544.8 566.3h0M545.0 555.5h0M545.3 556.0h0M545.4 557.1h0M545.6 565.1h0M545.7 564.7h0M546.0 564.7h0M546.5 557.2h0M546.8 557.4h0M546.9 564.7h0M547.5 564.1h0M547.7 565.3h0M547.8 557.6h0M548.0 565.2h0M548.3 556.6h0M548.6 558.4h0M548.7 558.2h0M548.9 563.2h0M549.2 556.1h0M549.3 564.3h0M549.6 562.9h0M550.1 562.6h0M550.2 556.3h0M550.4 557.8h0M550.8 555.8h0M551.0 556.1h0M551.3 556.8h0M551.6 560.5h0M551.7 561.3h0M552.3 562.3h0M552.8 557.8h0M552.9 555.2h0M553.5 557.6h0M553.7 555.7h0M553.8 555.6h0M554.0 560.1h0M554.1 560.3h0M554.3 560.0h0M554.6 557.4h0M554.7 557.7h0M554.9 560.6h0M555.0 561.5h0M555.2 560.0h0M555.8 561.6h0M555.9 560.1h0M556.2 556.3h0M556.4 557.5h0M556.5 559.9h0M556.7 557.2h0M556.8 557.7h0M557.0 561.1h0M557.3 562.4h0M557.4 560.3h0M557.6 561.1h0M557.7 561.9h0M557.9 555.3h0M558.5 557.1h0M558.9 555.5h0M559.4 555.6h0M559.5 562.6h0M559.8 563.4h0M560.6 561.9h0M560.7 561.9h0M561.0 563.6h0M561.2 556.7h0M561.3 563.9h0M561.5 563.8h0M562.1 563.4h0M562.7 563.5h0M563.7 561.9h0M564.5 561.3h0M564.6 555.7h0M564.9 556.4h0M565.1 561.3h0M565.2 556.5h0M565.4 556.1h0M565.5 557.1h0M565.8 556.3h0M566.6 561.6h0M566.7 556.9h0M567.2 554.6h0M567.5 556.0h0M568.2 561.3h0M568.4 554.5h0M568.5 562.8h0M569.4 560.9h0M569.9 561.2h0M570.2 562.6h0M570.6 556.3h0M571.2 557.1h0M571.4 557.0h0M571.5 555.3h0M571.8 560.3h0M572.0 560.7h0M572.3 561.1h0M572.6 561.3h0M573.0 561.7h0M573.3 563.2h0M573.9 563.3h0M574.1 562.9h0M574.4 555.5h0M574.5 562.6h0M574.7 564.0h0M575.3 555.3h0M575.4 557.0h0M575.9 564.0h0M576.0 562.3h0M577.2 562.3h0M577.7 563.3h0M578.0 556.2h0M578.9 554.4h0M579.5 562.0h0M579.8 554.9h0M580.1 555.7h0M580.2 561.2h0M580.5 554.4h0M580.7 554.5h0M581.3 562.5h0M581.4 561.0h0M581.7 556.4h0M582.5 555.3h0M583.5 560.6h0M584.0 556.5h0M584.4 555.1h0M584.6 561.6h0M584.7 556.2h0M585.0 555.1h0M585.2 554.4h0M585.3 560.2h0M585.5 562.6h0M585.9 556.5h0M586.2 556.1h0M586.8 560.3h0M587.1 556.6h0M587.3 562.5h0M587.4 560.2h0M588.2 555.3h0M588.3 562.5h0M588.5 561.9h0M588.9 561.4h0M589.2 560.6h0M589.4 562.4h0M589.7 561.1h0M589.8 555.5h0M590.0 562.0h0M590.1 561.2h0M590.3 561.5h0M590.4 563.2h0M590.6 555.6h0M590.7 561.8h0M590.9 561.5h0M591.2 562.5h0M591.5 557.5h0M591.9 556.2h0M592.1 563.6h0M592.4 563.9h0M592.5 563.0h0M593.3 557.3h0M593.6 561.5h0M593.7 558.0h0M594.0 561.4h0M594.3 562.2h0M594.5 556.9h0M594.6 562.2h0M594.9 561.2h0M595.2 562.5h0M595.4 560.8h0M595.5 556.5h0M595.7 558.0h0M596.0 560.1h0M596.1 556.8h0M596.3 560.2h0M596.6 561.8h0M596.7 561.0h0M596.9 560.2h0M597.3 557.0h0M597.5 557.0h0M597.6 555.2h0M597.9 556.6h0M598.1 562.3h0M599.0 561.8h0M599.3 556.6h0M599.7 556.2h0M599.9 564.3h0M600.3 554.9h0M600.5 554.6h0M600.8 555.4h0M600.9 556.7h0M601.1 556.9h0M601.7 557.0h0M601.8 562.5h0M602.1 555.0h0M602.3 557.3h0M602.4 563.6h0M603.0 555.7h0M603.2 563.8h0M603.5 562.0h0M603.6 556.1h0M604.1 556.0h0M604.4 563.0h0M605.3 556.2h0M605.4 555.2h0M605.6 557.4h0M605.9 562.5h0M606.0 561.9h0M606.2 555.0h0M606.5 555.0h0M606.6 563.1h0M606.9 561.2h0M607.2 562.8h0M607.7 555.5h0M607.8 555.1h0M608.3 554.2h0M608.4 556.6h0M608.7 555.8h0M608.9 555.7h0M609.2 560.7h0M609.6 562.3h0M609.8 560.4h0M610.4 555.6h0M610.8 560.2h0M611.0 555.9h0M611.1 556.9h0M611.3 557.4h0M611.4 555.3h0M611.6 561.2h0M611.9 561.7h0M612.0 555.4h0M612.2 560.7h0M612.3 556.1h0M612.5 560.3h0M612.8 557.3h0M612.9 555.2h0M613.7 560.9h0M613.8 561.9h0M614.0 562.5h0M614.1 561.7h0M614.4 554.5h0M614.7 554.3h0M614.9 554.9h0M615.0 554.8h0M615.5 556.7h0M615.6 561.4h0M615.9 554.5h0M616.1 561.7h0M616.4 556.2h0M616.7 562.0h0M616.8 561.7h0M617.0 555.7h0M617.1 562.1h0M617.3 554.1h0M617.6 563.2h0M617.7 560.8h0M618.0 556.3h0M618.2 560.9h0M618.3 560.6h0M618.5 555.7h0M618.6 562.0h0M618.8 560.7h0M619.2 561.3h0M619.5 554.3h0M619.8 560.5h0M620.0 560.1h0M620.1 555.6h0M620.3 560.8h0M620.7 562.2h0M620.9 560.2h0M621.2 560.9h0M621.3 560.2h0M621.5 561.8h0M621.8 555.3h0M621.9 562.7h0M622.1 556.2h0M622.2 562.6h0M622.4 562.8h0M622.7 561.2h0M623.0 557.1h0M623.6 560.9h0M623.7 563.2h0M624.3 563.4h0M624.8 556.3h0M624.9 562.3h0M625.1 556.5h0M625.4 562.5h0M625.5 557.3h0M626.0 563.4h0M626.3 563.0h0M626.4 555.5h0M626.6 561.7h0M626.9 563.9h0M627.2 562.3h0M627.3 563.3h0M627.5 554.3h0M627.6 562.9h0M627.9 562.2h0M628.2 562.5h0M628.5 563.5h0M629.3 554.4h0M629.4 563.5h0M629.9 564.0h0M630.6 563.5h0M631.1 557.3h0M631.5 556.6h0M632.0 555.1h0M632.7 557.3h0M632.9 557.3h0M633.0 561.4h0M633.2 555.7h0M633.3 556.2h0M633.5 557.7h0M633.8 555.9h0M634.1 561.5h0M634.2 561.7h0M634.8 557.7h0M635.0 557.1h0M635.9 558.7h0M636.0 561.4h0M636.2 561.9h0M636.5 557.3h0M636.6 561.1h0M636.8 562.0h0M636.9 559.3h0M637.1 556.9h0M637.4 563.6h0M637.5 558.2h0M637.8 561.4h0M638.3 556.8h0M638.4 561.2h0M638.6 558.0h0M638.9 561.7h0M639.2 557.0h0M639.3 558.8h0M639.5 558.5h0M639.6 562.2h0M639.8 558.7h0M640.4 561.8h0M640.5 561.1h0M640.7 563.3h0M640.8 563.3h0M641.1 556.2h0M641.4 563.4h0M641.6 557.3h0M641.7 561.9h0M642.0 561.6h0M642.2 561.5h0M642.3 557.7h0M643.2 556.0h0M643.8 556.6h0M644.7 555.9h0M645.5 562.7h0M645.6 560.8h0M646.1 556.4h0M646.4 562.1h0M646.5 557.5h0M646.7 562.1h0M646.8 560.7h0M647.0 560.1h0M647.1 558.8h0M647.4 558.2h0M648.0 557.5h0M648.2 561.2h0M648.3 558.5h0M648.5 560.3h0M648.6 560.6h0M648.8 559.1h0M648.9 562.0h0M649.1 560.8h0M649.2 560.2h0M649.4 561.0h0M649.5 560.2h0M649.7 557.3h0M649.8 557.3h0M650.0 559.5h0M650.1 559.9h0M650.3 556.2h0M650.6 556.6h0M650.7 559.6h0M650.9 559.6h0M651.0 558.1h0M651.3 560.7h0M651.5 555.8h0M651.6 557.7h0M651.8 557.5h0M651.9 556.9h0M652.1 559.3h0M652.2 555.9h0M652.4 559.7h0M652.5 559.5h0M652.7 556.2h0M652.8 561.4h0M653.0 556.8h0M653.1 556.8h0M653.3 559.8h0M653.7 557.2h0M653.9 561.4h0M654.0 561.0h0M654.2 560.8h0M654.3 556.9h0M654.5 562.6h0M654.6 561.3h0M654.8 557.1h0M654.9 556.8h0M655.2 562.0h0M655.7 563.2h0M655.8 561.2h0M656.0 556.4h0M656.1 562.3h0M656.4 561.1h0M656.6 563.5h0M656.7 558.2h0M657.2 558.1h0M657.5 562.8h0M658.1 555.4h0M659.3 562.7h0M659.6 557.3h0M659.9 555.3h0M660.0 557.0h0M660.3 562.4h0M660.5 561.6h0M660.8 555.4h0M660.9 555.5h0M661.2 556.5h0M661.7 561.6h0M662.0 556.0h0M662.1 560.8h0M662.3 557.6h0M662.7 557.8h0M662.9 556.5h0M663.0 559.7h0M663.2 559.9h0M663.3 559.9h0M663.5 558.3h0M663.6 556.8h0M663.8 561.3h0M663.9 561.3h0M664.1 560.5h0M664.2 560.0h0M664.4 556.9h0M664.5 557.1h0M664.7 560.4h0M664.8 561.2h0M665.0 560.8h0M665.1 560.6h0M665.4 561.0h0M665.6 562.1h0M665.7 560.5h0M665.9 561.8h0M666.0 561.9h0M666.2 558.7h0M666.3 562.1h0M666.5 558.7h0M666.6 558.5h0M666.8 563.2h0M666.9 557.4h0M667.2 562.2h0M667.4 561.4h0M667.5 560.0h0M667.7 559.1h0M667.8 561.8h0M668.0 562.0h0M668.3 559.3h0M668.4 558.6h0M668.9 563.0h0M669.0 561.1h0M669.2 563.3h0M669.3 559.7h0M669.5 559.2h0M669.6 563.6h0M669.8 560.7h0M669.9 564.6h0M670.1 559.7h0M670.4 560.2h0M670.5 560.5h0M670.7 563.5h0M670.8 564.1h0M671.0 565.1h0M671.3 562.8h0M671.4 562.2h0M671.6 560.8h0M671.7 562.2h0M671.9 563.4h0M672.0 563.4h0M672.2 565.0h0M672.3 562.1h0M672.5 563.8h0M672.6 560.5h0M672.8 560.9h0M672.9 564.3h0M673.1 562.8h0M673.2 564.0h0M673.4 565.2h0M673.7 560.2h0M673.8 561.3h0M674.0 560.8h0M674.3 561.7h0M674.4 565.5h0M674.6 561.0h0M674.7 564.5h0M675.0 560.8h0M675.3 562.2h0M675.6 565.4h0M676.2 561.9h0M676.4 560.8h0M676.5 563.3h0M676.7 563.4h0M676.8 560.6h0M677.3 563.5h0M677.4 559.5h0M677.6 563.9h0M677.7 560.0h0M677.9 561.5h0M678.0 559.2h0M678.2 565.5h0M679.7 560.1h0M680.1 559.6h0M680.3 564.5h0M680.4 565.3h0M680.7 560.4h0M680.9 559.8h0M681.0 563.2h0M681.5 558.4h0M681.6 562.8h0M681.8 563.8h0M681.9 559.3h0M682.2 558.4h0M682.5 559.6h0M682.7 560.1h0M682.8 559.1h0M683.0 564.1h0M683.1 559.5h0M683.3 560.4h0M683.6 560.9h0M683.7 563.0h0M683.9 560.2h0M684.0 558.5h0M684.2 562.6h0M684.3 564.1h0M684.5 562.8h0M684.6 560.0h0M684.8 564.1h0M684.9 563.4h0M685.2 562.7h0M685.7 563.2h0M685.8 563.8h0M686.3 558.3h0M686.4 560.1h0M686.6 559.5h0M686.7 565.4h0M687.2 565.2h0M687.6 559.2h0M687.9 559.5h0M688.1 565.1h0M688.2 560.4h0M688.4 560.6h0M688.7 559.7h0M689.1 560.5h0M689.4 565.8h0M689.6 560.4h0M689.9 560.4h0M690.0 559.1h0M690.2 565.2h0M690.3 563.7h0M690.5 559.3h0M690.8 563.0h0M690.9 556.8h0M691.1 558.7h0M691.2 563.3h0M691.4 562.0h0M691.5 562.0h0M691.7 562.9h0M691.8 561.6h0M692.0 562.9h0M692.1 558.3h0M692.3 562.7h0M692.6 557.4h0M693.0 561.6h0M693.6 558.4h0M694.1 558.2h0M694.2 563.7h0M694.4 562.0h0M695.4 557.6h0M695.6 564.0h0M695.7 563.2h0M696.0 557.6h0M696.6 562.2h0M696.9 563.8h0M697.1 558.4h0M697.2 562.4h0M697.4 561.8h0M697.5 557.4h0M697.7 556.7h0M698.0 558.1h0M698.1 558.3h0M698.3 558.7h0M698.6 556.6h0M698.7 561.2h0M698.9 557.7h0M699.0 561.5h0M699.2 558.5h0M699.3 558.8h0M699.5 556.5h0M699.6 560.5h0M699.8 560.3h0M700.2 556.8h0M700.4 561.8h0M700.5 560.8h0M700.7 558.9h0M700.8 562.3h0M701.0 561.7h0M701.3 560.7h0M701.4 561.3h0M701.6 559.0h0M701.7 557.6h0M701.9 562.4h0M702.0 556.9h0M702.2 557.2h0M702.3 557.4h0M702.5 561.4h0M702.6 562.6h0M702.8 559.1h0M702.9 563.3h0M703.1 564.1h0M703.2 563.6h0M703.4 557.9h0M703.5 563.6h0M703.7 564.0h0M703.8 558.8h0M704.0 563.9h0M704.1 557.2h0M704.4 558.2h0M704.7 562.0h0M704.9 557.2h0M705.0 563.4h0M705.3 563.7h0M705.5 557.5h0M705.6 561.6h0M705.8 558.5h0M706.1 563.8h0M706.5 562.8h0M706.7 557.6h0M706.8 558.6h0M707.0 563.3h0M707.1 557.5h0M707.4 561.9h0M708.2 557.9h0M708.8 560.9h0M708.9 563.4h0M709.2 562.3h0M709.4 561.0h0M709.7 562.1h0M709.8 562.9h0M710.1 560.6h0M710.3 563.0h0M710.4 563.0h0M710.6 561.6h0M710.7 557.2h0M711.0 561.0h0M711.3 560.6h0M711.5 561.2h0M711.6 562.4h0M711.8 559.7h0M712.1 558.9h0M712.2 562.7h0M712.4 559.6h0M712.5 557.2h0M712.7 561.9h0M712.8 558.8h0M713.0 558.3h0M713.1 561.7h0M713.4 560.6h0M713.7 562.3h0M714.3 562.3h0M714.5 562.7h0M714.8 562.2h0M714.9 557.0h0M715.1 558.6h0M715.4 558.7h0M715.5 561.7h0M715.7 557.2h0M715.8 556.8h0M716.1 558.4h0M716.6 558.8h0M716.9 562.3h0M717.3 561.8h0M717.5 558.6h0M717.6 557.5h0M717.9 563.6h0M718.1 561.4h0M718.2 563.1h0M718.4 557.1h0M718.5 558.0h0M718.8 557.4h0M719.0 561.9h0M719.1 557.6h0M719.4 558.9h0M719.6 560.6h0M719.7 561.8h0M719.9 558.8h0M720.3 557.8h0M720.5 557.3h0M720.8 560.6h0M720.9 558.3h0M721.1 557.3h0M721.2 558.8h0M721.4 558.9h0M721.5 558.5h0M721.7 559.4h0M721.8 561.8h0M722.0 557.8h0M722.1 558.4h0M722.3 561.1h0M722.4 561.2h0M722.6 558.9h0M722.7 559.5h0M722.9 562.1h0M723.0 562.1h0M723.2 558.7h0M723.3 560.0h0M723.5 561.1h0M723.6 560.2h0M723.8 560.8h0M723.9 561.3h0M724.1 560.5h0M724.2 559.7h0M724.4 558.6h0M724.5 561.8h0M724.7 559.8h0M724.8 559.8h0M725.0 560.2h0M725.1 561.3h0M725.3 561.4h0M725.4 558.9h0M725.6 559.9h0M725.7 561.9h0M725.9 559.0h0M726.2 558.6h0M726.3 557.5h0M726.5 557.7h0M726.8 560.6h0M726.9 557.0h0M727.1 562.3h0M727.2 560.7h0M727.4 559.1h0M727.5 558.5h0M727.7 559.2h0M727.8 558.2h0M728.0 557.9h0M728.1 558.1h0M728.3 557.8h0M728.4 556.9h0M728.6 559.2h0M728.7 556.9h0M729.0 562.7h0M729.6 558.4h0M729.8 557.4h0M730.2 556.8h0M730.4 561.8h0M730.5 558.9h0M730.7 556.8h0M730.8 557.2h0M731.0 558.6h0M731.1 556.8h0M731.4 556.8h0M731.6 556.5h0M731.7 558.8h0M731.9 561.0h0M732.0 561.5h0M732.2 557.3h0M732.3 557.6h0M732.5 562.8h0M732.6 558.7h0M732.8 561.7h0M732.9 560.6h0M733.1 563.0h0M733.2 557.2h0M733.4 558.1h0M733.5 563.1h0M733.7 556.9h0M734.0 557.2h0M734.1 556.8h0M734.3 558.9h0M734.4 556.9h0M734.6 557.0h0M735.2 562.4h0M735.8 562.3h0M735.9 563.5h0M736.1 559.6h0M736.2 563.3h0M736.4 559.5h0M736.5 558.8h0M736.7 562.2h0M736.8 559.6h0M737.0 560.2h0M737.1 561.7h0M737.3 560.7h0M737.4 560.8h0M737.6 561.3h0M737.7 561.2h0M737.9 560.2h0M738.0 562.4h0M738.2 561.9h0M738.3 560.7h0M738.5 561.2h0M738.6 562.4h0M738.8 560.3h0M738.9 560.2h0M739.1 563.0h0M739.2 563.1h0M739.5 562.9h0M739.8 561.1h0M740.0 558.7h0M740.1 563.6h0M740.3 558.9h0M740.4 561.0h0M740.9 563.9h0M741.0 560.6h0M741.2 563.8h0M741.5 565.6h0M741.9 558.7h0M742.2 564.3h0M742.4 565.2h0M742.5 558.9h0M742.7 564.8h0M743.3 559.0h0M743.6 559.6h0M743.9 564.3h0M744.2 560.1h0M744.3 565.1h0M744.9 565.0h0M745.1 558.4h0M745.4 560.4h0M745.5 559.5h0M745.7 560.9h0M745.8 562.4h0M746.0 562.5h0M746.1 561.8h0M746.3 561.5h0M746.4 561.8h0M746.6 561.1h0M746.7 560.5h0M746.9 561.8h0" stroke="#00009b" stroke-width="5.8" stroke-linecap="round" fill="none"/>
<path d="M752.9 559.0L753.4 558.9L753.9 558.7L754.4 558.5L754.9 558.4L755.4 558.3L755.9 558.3L756.4 558.3L756.9 558.2L757.4 558.2L757.9 558.1L758.4 558.0L758.9 557.9L759.4 557.9L759.9 557.9L760.4 557.9L760.9 557.8L761.4 557.8L761.9 557.7L762.4 557.7L762.9 557.6L763.4 557.6L763.9 557.6L764.4 557.7L764.9 557.9L765.4 558.1L765.9 558.3L766.4 558.5L766.9 558.7L767.4 558.8L767.9 558.8L768.4 558.7L768.9 558.7L769.4 558.6L769.9 558.5L770.4 558.4L770.9 558.3L771.4 558.3L771.9 558.3L772.4 558.4L772.9 558.5L773.4 558.6L773.9 558.8L774.4 558.9L774.9 559.0L775.4 559.8L775.9 560.8L776.4 560.9L776.9 560.7L777.4 560.6L777.9 560.4L778.4 560.2L778.9 560.1L779.4 560.0L779.9 560.0L780.4 560.1L780.9 560.2L781.4 560.4L781.9 560.6L782.4 560.8L782.9 560.9L783.4 561.0L783.9 561.0L784.4 560.9L784.9 560.7L785.4 560.5L785.9 560.3L786.4 560.1L786.9 559.9L787.4 559.8L787.9 559.8L788.4 559.9L788.9 560.1L789.4 560.3L789.9 560.6L790.4 560.8L790.9 561.0L791.4 561.1L791.9 561.1L792.4 561.1L792.9 561.0L793.4 561.0L793.9 561.0L794.4 560.9L794.9 560.9L795.4 560.9L795.9 560.9L796.4 560.8L796.9 560.7L797.4 560.5L797.9 560.4L798.4 560.2L798.9 560.1L799.4 560.1L799.9 560.1L800.4 560.1L800.9 560.2L801.4 560.2L801.9 560.3L802.4 560.3L802.9 560.3L803.4 560.4L803.9 560.4L804.4 560.4L804.9 560.5L805.4 559.0L805.9 557.2L806.4 556.8L806.9 556.8L807.4 556.8L807.9 556.8L808.4 556.7L808.9 556.5L809.4 556.3L809.9 556.0L810.4 555.8L810.9 555.6L811.4 555.5L811.9 555.5L812.4 555.5L812.9 555.6L813.4 555.7L813.9 555.8L814.4 555.9L814.9 555.9L815.4 555.9L815.9 555.9L816.4 555.9L816.9 556.0L817.4 556.1L817.9 556.2L818.4 556.3L818.9 556.3L819.4 556.3L819.9 556.3L820.4 556.0L820.9 555.7L821.4 555.3L821.9 554.9L822.4 554.5L822.9 554.1L823.4 553.9L823.9 553.7L824.4 553.7L824.9 553.7L825.4 553.7L825.9 553.8L826.4 553.8L826.9 553.6L827.4 553.4L827.9 553.1L828.4 552.8L828.9 552.5L829.4 552.1L829.9 551.7L830.4 551.4L830.9 551.0L831.4 550.6L831.9 550.1L832.4 549.6L832.9 549.2L833.4 549.1L833.9 549.2L834.4 549.3L834.9 549.4L835.4 549.4L835.9 549.4L836.4 549.3L836.9 549.1L837.4 548.9L837.9 548.6L838.4 548.4L838.9 548.2L839.4 548.1L839.9 548.1L840.4 548.1L840.9 548.0L841.4 548.0L841.9 547.9L842.4 547.8L842.9 547.8L843.4 547.8L843.9 547.8L844.4 547.9L844.9 548.1L845.4 548.8L845.9 549.6L846.4 550.0L846.9 550.2L847.4 550.3L847.9 550.3L848.4 550.3L848.9 550.3L849.4 550.3L849.9 550.3L850.4 550.3L850.9 550.3L851.4 550.3L851.9 550.3L852.4 550.2L852.9 550.1L853.4 549.9L853.9 549.8L854.4 549.6L854.9 549.5L855.4 549.4L855.9 549.4L856.4 549.4L856.9 549.3L857.4 549.2L857.9 549.1L858.4 549.0L858.9 548.9L859.4 548.9L859.9 548.9L860.4 548.9L860.9 548.9L861.4 548.9L861.9 549.0L862.4 549.0L862.9 549.0L863.4 549.0L863.9 549.0L864.4 549.1L864.9 549.2L865.4 549.4L865.9 549.6L866.4 549.8L866.9 549.9L867.4 550.0L867.9 550.0L868.4 549.9L868.9 549.8L869.4 549.7L869.9 549.5L870.4 549.4L870.9 549.3L871.4 549.2L871.9 549.2L872.4 549.4L872.9 549.6L873.4 549.9L873.9 550.3L874.4 550.6L874.9 550.8L875.4 549.9L875.9 548.5L876.4 548.1L876.9 548.0L877.4 547.8L877.9 547.6L878.4 547.4L878.9 547.3L879.4 547.2L879.9 547.2L880.4 547.1L880.9 547.0L881.4 546.9L881.9 546.7L882.4 546.6L882.9 546.5L883.4 546.4L883.9 546.4L884.4 546.5L884.9 546.6L885.4 546.8L885.9 547.0L886.4 547.2L886.9 547.3L887.4 547.4L887.9 547.4L888.4 547.3L888.9 547.2L889.4 547.1L889.9 546.9L890.4 546.8L890.9 546.7L891.4 546.7L891.9 546.7L892.4 546.8L892.9 547.0L893.4 547.3L893.9 547.6L894.4 548.9L894.9 550.5L895.4 551.9L895.9 553.2L896.4 553.5L896.9 553.5L897.4 553.5L897.9 553.4L898.4 553.4L898.9 553.4L899.4 553.4L899.9 553.4L900.4 553.3L900.9 553.1L901.4 552.9L901.9 552.7L902.4 552.5L902.9 552.4L903.4 552.3L903.9 552.3L904.4 552.3L904.9 552.4L905.4 552.4L905.9 552.5L906.4 552.6L906.9 552.6L907.4 552.6L907.9 552.6L908.4 552.7L908.9 552.7L909.4 551.9L909.9 551.0L910.4 550.0L910.9 549.1L911.4 548.9L911.9 548.9L912.4 548.9L912.9 549.0L913.4 549.0L913.9 549.1L914.4 549.1L914.9 549.2L915.4 549.2L915.9 549.2L916.4 549.2L916.9 549.3L917.4 549.4L917.9 549.5L918.4 549.6L918.9 549.7L919.4 549.7L919.9 549.7L920.4 549.5L920.9 549.2L921.4 548.8L921.9 548.4L922.4 548.0L922.9 547.8L923.4 547.6L923.9 547.6L924.4 547.7L924.9 547.7L925.4 547.8L925.9 547.9L926.4 548.0L926.9 548.0L927.4 548.1L927.9 548.1L928.4 548.1L928.9 548.2L929.4 549.2L929.9 550.4L930.4 551.7L930.9 552.9L931.4 553.1L931.9 553.1L932.4 553.1L932.9 553.0L933.4 552.8L933.9 552.7L934.4 552.6L934.9 552.5L935.4 552.5L935.9 552.5L936.4 552.5L936.9 552.6L937.4 552.7L937.9 552.9L938.4 553.0L938.9 553.0L939.4 552.8L939.9 552.5L940.4 552.0L940.9 551.5L941.4 551.0L941.9 550.5L942.4 550.0L942.9 549.6L943.4 549.2L943.9 548.9L944.4 548.2L944.9 547.5L945.4 546.8L945.9 546.2L946.4 546.4L946.9 546.6L947.4 546.7L947.9 546.7L948.4 546.6L948.9 546.5L949.4 547.2L949.9 548.1L950.4 549.1L950.9 549.6L951.4 549.5L951.9 549.5L952.4 549.5L952.4 560.6L951.9 560.6L951.4 560.6L950.9 560.6L950.4 560.7L949.9 560.7L949.4 560.8L948.9 560.9L948.4 561.0L947.9 561.0L947.4 561.0L946.9 560.9L946.4 560.8L945.9 560.7L945.4 560.6L944.9 560.4L944.4 560.3L943.9 560.3L943.4 560.2L942.9 560.2L942.4 560.1L941.9 560.0L941.4 559.8L940.9 559.8L940.4 560.3L939.9 560.8L939.4 561.4L938.9 562.0L938.4 562.1L937.9 562.4L937.4 562.6L936.9 562.8L936.4 563.0L935.9 563.1L935.4 563.1L934.9 563.1L934.4 563.2L933.9 563.2L933.4 563.3L932.9 563.3L932.4 563.4L931.9 563.4L931.4 563.4L930.9 563.1L930.4 562.1L929.9 560.9L929.4 559.7L928.9 558.7L928.4 558.4L927.9 558.2L927.4 558.1L926.9 558.1L926.4 558.2L925.9 558.3L925.4 558.5L924.9 558.6L924.4 558.7L923.9 558.8L923.4 558.7L922.9 558.6L922.4 558.6L921.9 558.6L921.4 558.6L920.9 558.6L920.4 558.5L919.9 558.5L919.4 558.4L918.9 558.3L918.4 558.2L917.9 558.1L917.4 558.0L916.9 557.9L916.4 557.7L915.9 557.6L915.4 557.6L914.9 557.4L914.4 557.3L913.9 557.1L913.4 556.9L912.9 556.7L912.4 556.6L911.9 556.5L911.4 556.4L910.9 556.5L910.4 557.0L909.9 557.6L909.4 558.3L908.9 558.8L908.4 558.9L907.9 559.0L907.4 559.0L906.9 559.0L906.4 559.0L905.9 559.0L905.4 559.1L904.9 559.1L904.4 559.1L903.9 559.1L903.4 559.1L902.9 559.1L902.4 559.1L901.9 559.0L901.4 559.0L900.9 559.0L900.4 559.0L899.9 558.9L899.4 558.9L898.9 558.8L898.4 558.7L897.9 558.4L897.4 558.2L896.9 557.9L896.4 557.7L895.9 557.7L895.4 557.9L894.9 558.3L894.4 558.7L893.9 559.1L893.4 559.2L892.9 559.4L892.4 559.5L891.9 559.5L891.4 559.6L890.9 559.6L890.4 559.6L889.9 559.7L889.4 559.8L888.9 559.9L888.4 560.0L887.9 560.0L887.4 560.0L886.9 559.9L886.4 559.8L885.9 559.6L885.4 559.4L884.9 559.1L884.4 559.0L883.9 558.9L883.4 558.9L882.9 559.0L882.4 559.2L881.9 559.4L881.4 559.7L880.9 559.9L880.4 560.1L879.9 560.2L879.4 560.2L878.9 560.2L878.4 560.1L877.9 560.0L877.4 559.9L876.9 559.8L876.4 559.8L875.9 559.8L875.4 560.2L874.9 560.5L874.4 560.4L873.9 560.3L873.4 560.2L872.9 560.0L872.4 559.9L871.9 559.9L871.4 559.9L870.9 560.0L870.4 560.1L869.9 560.2L869.4 560.3L868.9 560.4L868.4 560.5L867.9 560.6L867.4 560.6L866.9 560.6L866.4 560.6L865.9 560.6L865.4 560.6L864.9 560.6L864.4 560.6L863.9 560.6L863.4 560.6L862.9 560.6L862.4 560.5L861.9 560.4L861.4 560.3L860.9 560.2L860.4 560.1L859.9 560.0L859.4 560.0L858.9 560.0L858.4 560.0L857.9 560.0L857.4 560.0L856.9 560.0L856.4 560.0L855.9 560.0L855.4 560.0L854.9 560.1L854.4 560.3L853.9 560.5L853.4 560.7L852.9 560.9L852.4 561.0L851.9 561.1L851.4 561.2L850.9 561.1L850.4 561.0L849.9 560.8L849.4 560.5L848.9 560.3L848.4 560.2L847.9 560.1L847.4 560.1L846.9 560.2L846.4 560.3L845.9 560.0L845.4 558.0L844.9 556.4L844.4 556.5L843.9 556.5L843.4 556.5L842.9 556.5L842.4 556.4L841.9 556.2L841.4 556.1L840.9 555.9L840.4 555.8L839.9 555.7L839.4 555.7L838.9 555.7L838.4 555.6L837.9 555.5L837.4 555.5L836.9 555.4L836.4 555.3L835.9 555.3L835.4 555.3L834.9 555.4L834.4 555.6L833.9 555.9L833.4 556.3L832.9 556.8L832.4 558.1L831.9 559.2L831.4 560.2L830.9 560.9L830.4 560.8L829.9 560.5L829.4 560.3L828.9 560.0L828.4 559.9L827.9 559.8L827.4 559.9L826.9 560.1L826.4 560.4L825.9 560.8L825.4 561.3L824.9 561.8L824.4 562.2L823.9 562.5L823.4 562.7L822.9 562.9L822.4 562.9L821.9 563.0L821.4 563.0L820.9 563.0L820.4 563.1L819.9 563.2L819.4 563.2L818.9 563.2L818.4 563.3L817.9 563.5L817.4 563.7L816.9 563.8L816.4 563.9L815.9 564.0L815.4 564.0L814.9 564.0L814.4 564.1L813.9 564.2L813.4 564.3L812.9 564.4L812.4 564.5L811.9 564.6L811.4 564.6L810.9 564.4L810.4 564.1L809.9 563.7L809.4 563.3L808.9 562.9L808.4 562.6L807.9 562.4L807.4 562.4L806.9 562.6L806.4 562.8L805.9 563.6L805.4 566.0L804.9 567.9L804.4 568.2L803.9 568.4L803.4 568.4L802.9 568.4L802.4 568.3L801.9 568.2L801.4 568.1L800.9 568.1L800.4 568.0L799.9 568.0L799.4 568.0L798.9 568.0L798.4 568.0L797.9 568.0L797.4 568.0L796.9 568.0L796.4 568.0L795.9 568.0L795.4 568.0L794.9 568.0L794.4 568.0L793.9 568.0L793.4 568.1L792.9 568.1L792.4 568.1L791.9 568.1L791.4 568.1L790.9 568.1L790.4 568.0L789.9 567.9L789.4 567.7L788.9 567.6L788.4 567.5L787.9 567.4L787.4 567.4L786.9 567.4L786.4 567.3L785.9 567.1L785.4 567.0L784.9 566.8L784.4 566.7L783.9 566.6L783.4 566.6L782.9 566.7L782.4 566.9L781.9 567.2L781.4 567.5L780.9 567.7L780.4 567.9L779.9 568.1L779.4 568.1L778.9 568.1L778.4 568.2L777.9 568.2L777.4 568.3L776.9 568.4L776.4 568.5L775.9 568.2L775.4 566.5L774.9 565.1L774.4 564.9L773.9 564.6L773.4 564.3L772.9 564.0L772.4 563.8L771.9 563.7L771.4 563.7L770.9 563.8L770.4 564.0L769.9 564.3L769.4 564.6L768.9 564.8L768.4 565.1L767.9 565.2L767.4 565.2L766.9 565.1L766.4 564.9L765.9 564.7L765.4 564.5L764.9 564.2L764.4 564.0L763.9 563.9L763.4 563.9L762.9 563.9L762.4 563.8L761.9 563.7L761.4 563.6L760.9 563.5L760.4 563.5L759.9 563.4L759.4 563.4L758.9 563.5L758.4 563.7L757.9 564.0L757.4 564.3L756.9 564.6L756.4 564.8L755.9 565.0L755.4 565.0L754.9 565.0L754.4 565.0L753.9 565.0L753.4 565.0L752.9 565.1Z" fill="#00009b"/>
<path d="M755.0 562.2h0M755.1 560.3h0M755.3 559.3h0M755.4 559.0h0M755.6 560.0h0M755.7 563.3h0M755.9 560.9h0M756.0 563.2h0M756.2 558.9h0M756.3 561.8h0M756.6 561.7h0M756.8 560.9h0M756.9 561.6h0M757.1 563.6h0M757.2 561.8h0M757.4 561.0h0M757.5 559.8h0M757.7 563.2h0M757.8 560.0h0M758.0 562.3h0M758.1 563.2h0M758.3 558.7h0M758.4 562.0h0M758.6 561.4h0M758.7 559.3h0M758.9 560.1h0M759.0 560.8h0M759.2 560.2h0M759.3 561.2h0M759.5 559.4h0M759.6 559.4h0M759.8 561.8h0M759.9 562.2h0M760.1 561.2h0M760.2 561.0h0M760.4 559.7h0M760.5 559.5h0M760.7 562.3h0M760.8 559.5h0M761.0 560.5h0M761.1 560.0h0M761.3 561.0h0M761.4 560.2h0M761.6 558.4h0M761.7 558.5h0M761.9 562.0h0M762.0 559.7h0M762.2 559.8h0M762.3 558.6h0M762.5 563.0h0M762.6 559.6h0M762.8 561.1h0M762.9 559.1h0M763.1 560.3h0M763.2 563.2h0M763.4 563.3h0M763.5 561.9h0M763.7 559.9h0M763.8 563.0h0M764.0 561.6h0M764.1 559.8h0M764.3 562.5h0M764.4 560.5h0M764.6 561.3h0M764.7 560.8h0M764.9 563.6h0M765.0 562.6h0M765.2 559.9h0M765.3 559.7h0M765.5 562.3h0M765.6 561.6h0M765.8 561.1h0M765.9 561.9h0M766.1 564.2h0M766.2 561.6h0M766.4 561.3h0M766.5 560.4h0M766.7 564.2h0M766.8 563.1h0M767.0 563.5h0M767.1 563.3h0M767.3 560.1h0M767.4 562.4h0M767.6 562.6h0M767.7 562.3h0M767.9 561.6h0M768.0 561.9h0M768.2 561.0h0M768.3 561.8h0M768.5 561.7h0M768.6 562.7h0M768.8 560.4h0M768.9 561.1h0M769.1 561.9h0M769.2 562.7h0M769.4 559.4h0M769.5 560.3h0M769.7 562.1h0M769.8 562.5h0M770.0 561.5h0M770.1 563.1h0M770.3 561.6h0M770.4 559.5h0M770.6 561.6h0M770.7 562.2h0M770.9 560.0h0M771.0 562.0h0M771.2 559.1h0M771.3 563.0h0M771.5 560.6h0M771.6 559.2h0M771.8 561.4h0M771.9 559.8h0M772.1 559.3h0M772.2 559.2h0M772.4 560.2h0M772.5 560.2h0M772.7 561.6h0M772.8 561.4h0M773.0 561.3h0M773.1 560.7h0M773.3 561.3h0M773.4 560.9h0M773.6 561.3h0M773.7 561.9h0M773.9 559.6h0M774.0 561.1h0M774.2 559.7h0M774.3 560.5h0M774.5 559.6h0M774.6 562.4h0M774.8 562.6h0M774.9 561.4h0M775.1 561.9h0M775.2 562.1h0M775.4 565.5h0M775.5 566.4h0M775.8 561.5h0M776.1 561.9h0M776.4 566.7h0M776.6 565.8h0M776.7 567.7h0M777.0 563.2h0M777.2 563.2h0M777.3 563.6h0M777.5 565.3h0M777.6 561.1h0M777.8 567.6h0M778.1 562.8h0M778.2 560.9h0M778.4 566.5h0M778.5 565.7h0M778.7 566.1h0M779.0 567.0h0M779.1 567.5h0M779.3 566.2h0M780.6 563.2h0M780.8 562.7h0M780.9 563.1h0M781.1 565.3h0M781.2 565.4h0M781.4 566.0h0M781.5 566.5h0M781.7 562.1h0M781.8 562.7h0M782.0 562.6h0M782.1 562.6h0M782.3 563.7h0M782.4 564.7h0M782.6 564.6h0M782.7 563.2h0M782.9 561.7h0M783.0 564.6h0M783.2 565.9h0M783.3 563.0h0M783.5 565.1h0M783.6 565.1h0M783.8 561.7h0M783.9 564.2h0M784.1 562.9h0M784.2 561.7h0M784.4 565.5h0M784.5 561.7h0M784.7 566.1h0M784.8 562.3h0M785.0 563.1h0M785.1 564.8h0M785.3 564.8h0M785.4 564.9h0M785.6 564.7h0M785.7 562.4h0M785.9 565.2h0M786.2 565.9h0M786.3 564.9h0M786.5 564.1h0M786.6 561.0h0M786.8 562.9h0M786.9 564.3h0M787.1 566.8h0M787.2 561.6h0M787.4 560.6h0M787.5 563.0h0M787.8 561.4h0M788.0 560.5h0M788.1 566.7h0M788.3 565.6h0M788.4 561.6h0M788.7 563.1h0M788.9 564.5h0M789.0 564.6h0M789.2 561.5h0M789.3 562.2h0M789.5 565.3h0M789.6 566.0h0M789.8 566.4h0M789.9 566.1h0M790.2 563.6h0M790.4 567.1h0M790.7 565.7h0M790.8 565.7h0M791.0 566.2h0M791.1 567.0h0M791.3 565.6h0M791.4 564.0h0M791.6 565.6h0M791.7 566.9h0M791.9 566.5h0M792.0 562.3h0M792.2 563.7h0M792.5 563.1h0M792.6 563.3h0M792.8 565.4h0M792.9 562.3h0M793.1 564.1h0M793.2 561.8h0M793.4 565.8h0M793.5 563.8h0M793.7 567.1h0M794.0 566.5h0M794.3 565.8h0M794.4 565.0h0M794.7 562.7h0M794.9 563.8h0M795.0 563.8h0M795.2 565.3h0M795.3 562.9h0M795.5 564.9h0M795.6 563.5h0M795.8 563.4h0M795.9 562.6h0M796.4 561.8h0M796.5 563.7h0M797.0 567.2h0M797.3 563.5h0M797.6 566.4h0M797.7 566.3h0M797.9 565.8h0M798.0 561.0h0M798.2 562.7h0M798.5 562.3h0M798.8 561.0h0M798.9 562.9h0M799.1 567.3h0M799.4 567.3h0M799.5 565.0h0M799.7 562.5h0M799.8 561.6h0M800.0 567.1h0M800.3 562.8h0M801.0 565.8h0M801.6 561.0h0M801.8 565.3h0M801.9 563.3h0M802.2 561.5h0M802.4 567.4h0M802.5 566.6h0M802.8 565.6h0M803.0 565.7h0M803.3 562.4h0M803.4 566.2h0M803.6 562.4h0M803.7 566.8h0M803.9 566.3h0M804.0 565.5h0M804.2 561.9h0M804.3 562.9h0M804.5 563.0h0M804.6 563.2h0M804.8 561.3h0M804.9 561.2h0M805.1 564.5h0M805.2 561.9h0M805.4 562.0h0M805.5 564.4h0M805.7 559.8h0M805.8 561.3h0M806.0 562.0h0M806.1 559.8h0M806.3 560.6h0M806.4 559.3h0M806.6 559.4h0M806.7 561.8h0M806.9 558.8h0M807.0 561.5h0M807.2 559.1h0M807.3 559.6h0M807.5 560.7h0M807.6 560.6h0M807.8 558.8h0M807.9 559.4h0M808.1 559.6h0M808.2 559.7h0M808.4 559.5h0M808.5 560.9h0M808.7 558.1h0M808.8 561.1h0M809.0 561.3h0M809.1 557.6h0M809.4 558.3h0M809.6 556.8h0M809.9 561.1h0M810.0 558.9h0M810.5 556.8h0M810.9 556.7h0M811.1 563.4h0M811.2 556.6h0M811.7 561.8h0M811.8 561.7h0M812.4 561.5h0M812.9 561.6h0M813.3 562.1h0M813.6 557.0h0M813.8 558.0h0M814.1 558.9h0M814.5 560.9h0M814.8 559.0h0M815.1 561.9h0M815.3 557.1h0M815.4 558.8h0M815.6 557.6h0M815.7 558.4h0M815.9 561.6h0M816.0 563.2h0M816.2 558.2h0M816.3 561.1h0M816.5 559.0h0M816.8 557.2h0M816.9 556.9h0M817.1 558.3h0M817.4 561.5h0M817.5 558.8h0M817.7 557.9h0M817.8 562.1h0M818.0 557.0h0M818.1 562.7h0M818.3 557.7h0M818.4 561.1h0M818.6 559.0h0M818.7 562.0h0M818.9 559.0h0M819.2 560.6h0M819.3 559.1h0M819.5 557.4h0M819.6 558.5h0M819.8 558.2h0M819.9 560.0h0M820.1 557.2h0M820.2 561.7h0M820.4 561.4h0M820.5 557.8h0M820.7 556.8h0M821.0 557.0h0M821.1 556.4h0M821.3 561.6h0M821.6 557.9h0M821.7 560.6h0M821.9 561.0h0M822.0 557.5h0M822.2 561.5h0M822.3 560.0h0M822.5 560.2h0M822.6 560.0h0M822.8 556.7h0M822.9 555.9h0M823.1 554.8h0M823.4 561.7h0M823.8 555.9h0M824.0 561.2h0M824.3 556.7h0M824.6 559.1h0M824.7 556.1h0M824.9 560.7h0M825.5 556.0h0M825.6 555.5h0M825.8 554.6h0M825.9 557.7h0M826.1 558.8h0M826.2 559.6h0M826.4 558.2h0M826.5 557.4h0M826.7 558.7h0M826.8 556.6h0M827.0 555.9h0M827.1 558.0h0M827.3 554.8h0M827.4 558.6h0M827.6 555.7h0M827.7 555.5h0M827.9 557.6h0M828.0 559.0h0M828.2 555.2h0M828.5 558.5h0M828.8 558.8h0M828.9 554.8h0M829.4 559.2h0M829.5 553.9h0M829.7 559.1h0M829.8 557.9h0M830.1 554.7h0M830.6 553.3h0M830.9 554.0h0M831.0 559.4h0M831.2 551.4h0M831.8 553.3h0M831.9 557.3h0M832.2 557.1h0M832.4 554.9h0M832.7 551.9h0M833.0 553.3h0M833.1 554.7h0M833.3 550.5h0M833.4 551.2h0M833.6 550.9h0M833.7 551.4h0M833.9 549.9h0M834.0 553.9h0M834.2 555.0h0M834.3 550.2h0M834.5 553.2h0M834.6 554.7h0M834.8 552.1h0M834.9 553.6h0M835.1 552.1h0M835.2 552.6h0M835.4 551.5h0M835.5 552.7h0M835.7 552.5h0M835.8 553.9h0M836.0 552.4h0M836.1 550.2h0M836.3 551.4h0M836.4 554.5h0M836.6 551.1h0M836.7 553.1h0M836.9 551.2h0M837.0 552.9h0M837.2 554.6h0M837.3 554.7h0M837.5 550.9h0M837.6 550.2h0M837.8 549.6h0M838.1 552.7h0M838.4 550.0h0M838.5 551.5h0M838.7 553.3h0M839.0 550.2h0M839.1 555.0h0M839.3 553.8h0M839.6 551.3h0M839.7 552.8h0M839.9 550.4h0M840.0 555.1h0M840.3 554.8h0M840.8 550.2h0M840.9 549.8h0M841.1 554.8h0M841.4 553.4h0M841.7 551.0h0M841.8 551.0h0M842.0 555.2h0M842.1 554.8h0M842.3 550.9h0M842.4 553.7h0M842.6 553.5h0M842.7 555.7h0M842.9 549.9h0M843.0 554.1h0M843.5 549.6h0M843.6 548.6h0M843.8 550.4h0M844.2 553.4h0M844.4 551.0h0M844.5 553.7h0M844.8 551.0h0M845.0 555.0h0M845.1 555.6h0M845.9 552.8h0M846.0 557.2h0M846.2 553.0h0M846.5 558.4h0M846.9 558.6h0M847.1 552.6h0M847.2 557.5h0M848.0 557.8h0M848.6 552.8h0M848.9 552.1h0M849.0 552.6h0M849.8 553.5h0M849.9 551.4h0M850.4 552.0h0M850.5 551.3h0M851.0 559.1h0M851.1 552.7h0M851.4 551.2h0M851.9 560.1h0M852.2 551.0h0M852.3 551.4h0M852.6 557.9h0M853.1 558.5h0M853.2 552.5h0M853.8 552.3h0M854.4 558.6h0M854.7 558.5h0M855.5 557.5h0M855.9 557.5h0M856.7 550.4h0M856.8 551.6h0M857.1 558.2h0M857.3 558.0h0M857.4 549.9h0M857.6 557.5h0M857.7 550.8h0M857.9 558.9h0M858.0 557.7h0M858.2 558.1h0M858.8 557.5h0M858.9 558.9h0M859.1 558.8h0M859.2 550.0h0M859.7 551.4h0M859.8 550.8h0M860.0 552.0h0M860.1 559.3h0M860.6 551.5h0M860.7 558.0h0M860.9 558.8h0M861.0 549.6h0M861.2 558.8h0M861.8 549.7h0M861.9 551.7h0M862.1 550.2h0M862.5 549.8h0M862.7 549.6h0M862.8 550.4h0M863.0 559.5h0M863.3 557.5h0M864.0 551.9h0M864.2 558.7h0M864.3 558.2h0M864.6 557.7h0M865.5 551.9h0M865.7 552.6h0M866.9 553.0h0M867.0 551.0h0M867.2 551.2h0M867.6 560.0h0M867.9 557.5h0M868.1 553.0h0M868.7 559.4h0M869.0 557.7h0M869.1 557.4h0M869.3 550.7h0M869.6 558.8h0M869.7 559.1h0M870.3 559.4h0M870.5 551.6h0M870.6 557.5h0M870.9 551.5h0M871.2 552.2h0M872.0 557.9h0M872.1 558.8h0M872.6 558.0h0M872.7 551.3h0M872.9 550.6h0M873.0 550.9h0M873.9 558.5h0M874.1 551.6h0M874.7 559.3h0M875.7 558.0h0M876.2 558.3h0M876.5 549.0h0M876.8 558.3h0M876.9 549.5h0M877.1 549.6h0M877.2 559.2h0M877.8 558.4h0M878.1 548.6h0M878.4 548.1h0M878.9 559.5h0M879.0 549.5h0M879.3 558.7h0M879.5 558.3h0M879.6 548.2h0M880.7 558.8h0M880.8 558.7h0M881.6 547.5h0M882.2 558.0h0M882.6 548.4h0M882.8 548.4h0M883.1 547.1h0M883.2 556.4h0M883.8 556.3h0M884.0 549.6h0M884.1 555.9h0M884.9 548.9h0M885.0 557.2h0M885.2 549.7h0M885.3 547.7h0M885.6 558.3h0M885.8 556.4h0M886.4 556.9h0M886.5 549.3h0M886.8 549.4h0M887.1 557.5h0M887.3 558.9h0M887.6 550.2h0M888.3 558.6h0M888.6 557.5h0M888.9 549.1h0M889.2 556.7h0M889.4 558.6h0M889.7 558.5h0M890.3 556.8h0M890.6 558.9h0M891.0 558.4h0M891.3 548.7h0M891.6 549.6h0M891.9 549.3h0M892.1 556.9h0M892.5 549.7h0M892.7 557.3h0M893.3 549.1h0M894.2 550.5h0M894.5 551.2h0M894.8 550.8h0M894.9 553.2h0M895.1 552.1h0M895.2 555.8h0M895.4 554.7h0M895.5 556.0h0M895.7 554.2h0M895.8 555.5h0M896.0 555.1h0M896.1 556.8h0M896.3 555.0h0M896.4 555.4h0M896.6 554.2h0M896.7 554.1h0M896.9 554.9h0M897.0 557.1h0M897.2 557.4h0M897.3 554.4h0M897.5 555.4h0M897.6 557.5h0M897.8 556.6h0M897.9 554.3h0M898.1 557.2h0M898.2 555.8h0M898.4 557.2h0M898.5 555.2h0M898.7 557.9h0M898.8 557.6h0M899.0 554.9h0M899.1 554.6h0M899.3 555.2h0M899.4 554.5h0M899.6 558.1h0M899.7 555.5h0M899.9 557.8h0M900.0 556.7h0M900.2 558.2h0M900.3 555.3h0M900.5 553.9h0M900.6 555.6h0M900.8 557.2h0M900.9 556.4h0M901.1 555.8h0M901.2 556.2h0M901.4 554.7h0M901.5 554.2h0M901.7 555.6h0M901.8 558.0h0M902.0 557.6h0M902.1 555.5h0M902.3 556.5h0M902.4 557.5h0M902.6 555.3h0M902.7 554.8h0M902.9 554.4h0M903.0 553.8h0M903.2 557.7h0M903.5 557.9h0M903.6 556.1h0M903.9 556.6h0M904.1 553.5h0M904.2 556.9h0M904.4 558.2h0M904.5 556.5h0M904.7 553.7h0M904.8 554.9h0M905.0 554.9h0M905.3 557.0h0M905.4 556.2h0M905.6 558.1h0M905.9 557.7h0M906.0 556.9h0M906.2 554.6h0M906.3 555.7h0M906.5 554.4h0M906.6 553.2h0M906.8 553.2h0M906.9 555.0h0M907.1 555.2h0M907.2 557.6h0M907.4 556.8h0M907.5 558.4h0M907.7 555.5h0M907.8 554.4h0M908.0 556.0h0M908.1 554.2h0M908.3 556.5h0M908.4 557.3h0M908.6 555.8h0M908.7 557.9h0M908.9 556.6h0M909.0 554.3h0M909.2 557.7h0M909.3 555.6h0M909.5 556.5h0M909.6 556.5h0M909.8 552.7h0M909.9 554.5h0M910.1 553.4h0M910.2 554.7h0M910.4 554.2h0M910.5 552.7h0M910.7 554.9h0M910.8 553.8h0M911.0 552.0h0M911.1 550.9h0M911.3 555.6h0M911.4 551.3h0M911.6 555.4h0M911.7 549.8h0M911.9 554.4h0M912.0 552.1h0M912.2 555.9h0M912.3 551.6h0M912.5 551.1h0M912.6 550.3h0M912.8 551.7h0M912.9 549.7h0M913.4 555.3h0M913.5 555.6h0M914.1 554.7h0M914.3 554.8h0M914.4 549.9h0M914.6 555.4h0M914.9 551.9h0M915.0 552.1h0M915.2 556.4h0M915.3 552.2h0M915.5 551.7h0M915.6 557.0h0M915.9 554.7h0M916.2 551.2h0M916.5 556.8h0M917.0 550.9h0M917.4 555.4h0M917.9 556.1h0M918.2 555.1h0M918.5 551.8h0M918.6 555.7h0M918.8 555.3h0M919.2 556.9h0M919.7 557.1h0M919.8 555.9h0M920.1 552.6h0M920.6 550.3h0M920.7 557.5h0M921.0 549.9h0M921.8 556.2h0M922.2 551.1h0M922.4 555.8h0M922.5 556.5h0M922.7 556.2h0M922.8 557.7h0M923.4 550.7h0M923.7 557.9h0M923.9 557.6h0M924.0 556.3h0M924.6 557.6h0M925.1 550.1h0M925.2 555.7h0M925.7 549.5h0M926.0 556.0h0M926.4 557.0h0M926.9 557.3h0M927.3 549.2h0M927.5 555.3h0M927.8 557.1h0M928.4 556.8h0M928.5 555.6h0M929.0 550.1h0M929.1 558.4h0M929.3 556.4h0M929.9 553.0h0M930.3 559.4h0M930.5 561.1h0M931.1 555.6h0M931.4 560.5h0M931.5 554.6h0M931.7 561.1h0M931.8 556.0h0M932.0 562.3h0M932.4 554.2h0M932.7 562.6h0M932.9 555.9h0M933.5 560.2h0M933.9 562.2h0M934.1 561.3h0M935.0 553.9h0M935.6 554.6h0M936.3 560.1h0M936.6 562.2h0M936.8 555.1h0M937.1 553.4h0M937.4 560.8h0M937.5 553.7h0M937.7 555.4h0M938.0 555.5h0M938.3 561.1h0M938.6 553.6h0M939.0 555.5h0M939.2 556.1h0M939.3 553.5h0M939.5 555.5h0M939.6 559.3h0M940.2 554.2h0M940.4 553.8h0M940.5 559.0h0M941.0 554.0h0M941.3 557.1h0M941.7 553.1h0M941.9 557.2h0M942.0 551.1h0M942.3 550.8h0M942.5 559.3h0M942.6 551.9h0M943.1 559.4h0M943.2 557.9h0M943.4 550.5h0M944.3 559.0h0M944.4 548.9h0M944.6 557.9h0M944.7 557.8h0M945.8 557.5h0M945.9 547.5h0M946.2 547.0h0M946.4 559.6h0M946.7 548.2h0M946.8 559.7h0M947.1 558.6h0M947.3 548.9h0M947.6 549.9h0M947.9 547.8h0M948.0 549.1h0M948.3 547.8h0M948.8 549.4h0M949.2 558.2h0M949.7 548.6h0M950.0 559.0h0M950.1 551.3h0" stroke="#00009b" stroke-width="5.8" stroke-linecap="round" fill="none"/>
<path d="M536.5 232.4h0M576.5 246.5h0M523.4 280.4h0M547.8 280.0h0M550.4 283.9h0M572.3 287.4h0M581.3 284.3h0M601.3 284.3h0M601.3 294.3h0M601.9 274.1h0M627.3 273.5h0M670.4 246.1h0M547.3 251.2h0M549.8 251.2h0M560.5 251.2h0M613.7 251.5h0M621.5 251.5h0M628.6 251.3h0M667.8 250.6h0M675.6 250.6h0M635.2 270.2h0M645.4 270.2h0M695.2 270.6h0M740.2 270.8h0M829.3 126.6h0M832.5 188.6h0M802.6 251.3h0M827.5 251.3h0M840.4 287.3h0M833.4 319.0h0M880.5 199.6h0M523.4 538.4h0M536.5 533.5h0M547.5 532.4h0M548.5 543.6h0M581.4 535.4h0M523.4 568.4h0M532.4 568.7h0M550.4 577.5h0M601.3 548.5h0M594.5 549.1h0M602.3 576.5h0M601.3 593.4h0M624.3 567.4h0M572.6 548.5h0M577.1 548.5h0M829.4 437.5h0M802.4 604.5h0M833.4 596.3h0M840.4 582.3h0M827.6 646.1h0M827.6 686.3h0M880.4 570.6h0M881.5 546.4h0M829.5 749.7h0M832.3 763.6h0M802.3 880.3h0M827.3 902.5h0M827.3 924.3h0M833.2 932.4h0" stroke="#00009b" stroke-width="5.8" stroke-linecap="round" fill="none"/>
<path d="M778.4 844.1H944.0M534.4 844.1h0M548.9 844.1h0M572.6 844.1h0M670.4 844.1h0M696.5 844.1h0M524.3 851.4H535.9M549.1 851.4H732.1M740.5 851.4H741.8M759.9 851.4H950.5M524.1 858.7H732.1M740.5 858.7H743.8M756.3 858.7H787.8M801.6 858.7h0M812.5 858.7h0M863.7 858.7H870.2M885.6 858.7H895.4M936.2 858.7h0M943.6 858.7H950.2M524.3 866.0H579.1M585.6 866.0H614.5M621.9 866.0H640.1M678.2 866.0H682.8M722.6 866.0h0M727.8 866.0H733.0M739.5 866.0H744.0M756.3 866.0h0M767.9 866.0H771.0M539.5 873.4h0M549.5 873.4H552.9M581.4 873.4h0M523.4 880.7h0M550.5 880.7h0M550.5 888.0h0M536.4 836.8h0M548.5 836.8h0M836.5 836.8h0M846.5 836.8h0M547.9 829.4h0M561.3 822.1h0M576.6 822.1h0M548.5 814.8h0M548.5 807.4h0M560.4 800.1h0M547.5 785.5h0M602.5 895.4h0M601.4 902.7h0M601.4 917.3h0" stroke="#00009b" stroke-width="5.8" stroke-linecap="round" fill="none"/>
<path d="M526 855.1H732M758 855.1H787" stroke="#00009b" stroke-width="2.2" stroke-dasharray="9 1.2 5 0.8 14 1.5 7 1 11 2 3 0.7" fill="none"/>
<path d="M780 847.7H944" stroke="#00009b" stroke-width="2.2" stroke-dasharray="9 1.2 5 0.8 14 1.5 7 1 11 2 3 0.7" fill="none"/>
<path d="M524.7 113.4H581.6M582.6 113.4H732.6M740.7 113.4H743.5M755.5 113.4H840" stroke="#807dba" stroke-width="6.9" stroke-linecap="round" fill="none"/>
<path d="M840.4 113.4H950.4" stroke="#660066" stroke-width="6.9" stroke-linecap="round" fill="none"/>
<path d="M127.0 107.0H978.3V997.9H127.0Z M127.0 118.9H978.3 M127.0 411.9H978.3 M127.0 704.9H978.3" stroke="#000" stroke-width="2.2" fill="none" stroke-linejoin="miter"/>
<path d="M127.0 118.90h-9.7M127.0 192.15h-9.7M127.0 265.40h-9.7M127.0 338.65h-9.7M127.0 411.90h-9.7M127.0 411.90h-9.7M127.0 485.15h-9.7M127.0 558.40h-9.7M127.0 631.65h-9.7M127.0 704.90h-9.7M127.0 704.90h-9.7M127.0 778.15h-9.7M127.0 851.40h-9.7M127.0 924.65h-9.7M127.0 997.90h-9.7M127.10 997.9v10M236.08 997.9v10M345.06 997.9v10M454.04 997.9v10M563.02 997.9v10M672.00 997.9v10M780.98 997.9v10M889.96 997.9v10" stroke="#000" stroke-width="2.2" fill="none"/>
<path d="M140.72 997.9v5.9M154.34 997.9v5.9M167.97 997.9v5.9M181.59 997.9v5.9M195.21 997.9v5.9M208.83 997.9v5.9M222.46 997.9v5.9M249.70 997.9v5.9M263.32 997.9v5.9M276.95 997.9v5.9M290.57 997.9v5.9M304.19 997.9v5.9M317.81 997.9v5.9M331.44 997.9v5.9M358.68 997.9v5.9M372.31 997.9v5.9M385.93 997.9v5.9M399.55 997.9v5.9M413.17 997.9v5.9M426.79 997.9v5.9M440.42 997.9v5.9M467.66 997.9v5.9M481.28 997.9v5.9M494.91 997.9v5.9M508.53 997.9v5.9M522.15 997.9v5.9M535.77 997.9v5.9M549.40 997.9v5.9M576.64 997.9v5.9M590.26 997.9v5.9M603.89 997.9v5.9M617.51 997.9v5.9M631.13 997.9v5.9M644.75 997.9v5.9M658.38 997.9v5.9M685.62 997.9v5.9M699.25 997.9v5.9M712.87 997.9v5.9M726.49 997.9v5.9M740.11 997.9v5.9M753.74 997.9v5.9M767.36 997.9v5.9M794.60 997.9v5.9M808.23 997.9v5.9M821.85 997.9v5.9M835.47 997.9v5.9M849.09 997.9v5.9M862.72 997.9v5.9M876.34 997.9v5.9M903.58 997.9v5.9M917.21 997.9v5.9M930.83 997.9v5.9M944.45 997.9v5.9M958.07 997.9v5.9M971.70 997.9v5.9" stroke="#000" stroke-width="2.0" fill="none"/>
<g font-size="24.5" fill="#000">
<text x="107.9" y="127.9" text-anchor="end">10</text>
<text x="107.9" y="201.2" text-anchor="end">5</text>
<text x="107.9" y="274.4" text-anchor="end">0</text>
<text x="107.9" y="347.6" text-anchor="end">−5</text>
<text x="107.9" y="420.9" text-anchor="end">−10</text>
<text x="107.9" y="420.9" text-anchor="end" stroke="#000" stroke-width="0.55">10</text>
<text x="107.9" y="494.1" text-anchor="end">5</text>
<text x="107.9" y="567.4" text-anchor="end">0</text>
<text x="107.9" y="640.6" text-anchor="end">−5</text>
<text x="107.9" y="713.9" text-anchor="end">−10</text>
<text x="107.9" y="713.9" text-anchor="end" stroke="#000" stroke-width="0.55">10</text>
<text x="107.9" y="787.1" text-anchor="end">5</text>
<text x="107.9" y="860.4" text-anchor="end">0</text>
<text x="107.9" y="933.6" text-anchor="end">−5</text>
<text x="107.9" y="1006.9" text-anchor="end">−10</text>
<text x="127.1" y="1035.7" text-anchor="middle">1996</text>
<text x="236.1" y="1035.7" text-anchor="middle">2000</text>
<text x="345.1" y="1035.7" text-anchor="middle">2004</text>
<text x="454.0" y="1035.7" text-anchor="middle">2008</text>
<text x="563.0" y="1035.7" text-anchor="middle">2012</text>
<text x="672.0" y="1035.7" text-anchor="middle">2016</text>
<text x="781.0" y="1035.7" text-anchor="middle">2020</text>
<text x="890.0" y="1035.7" text-anchor="middle">2024</text>
<text x="552.9" y="1070.7" text-anchor="middle">Year</text>
<text transform="translate(38.1 266.3) rotate(-90)" text-anchor="middle" font-size="25">X (m)</text>
<text transform="translate(38.1 559.3) rotate(-90)" text-anchor="middle" font-size="25">Y (m)</text>
<text transform="translate(38.1 852.3) rotate(-90)" text-anchor="middle" font-size="25">Z (m)</text>
</g>
<text transform="translate(960.2 127.3) rotate(90) scale(0.82 1)" font-size="22.2">Now</text>
<text x="552.8" y="42.6" font-size="30.56" font-weight="bold" text-anchor="middle">GPS Standard Point Positioning</text>
<text x="552.3" y="80.2" font-size="27.78" text-anchor="middle">GOML00BLR - ROB-EUREF data node</text>
<rect x="25.1" y="1095.5" width="950" height="43.8" rx="5" ry="5" fill="#fff" stroke="#d4d4d4" stroke-width="2.78"/>
<g font-size="25">
<circle cx="47.6" cy="1115.5" r="4.3" fill="#00009b"/><text x="62.5" y="1123.7">GPS</text>
<circle cx="289.5" cy="1115.5" r="4.3" fill="#807dba"/><text x="304.7" y="1123.7">RINEX2</text>
<circle cx="573.5" cy="1115.5" r="4.3" fill="#660066"/><text x="588.6" y="1123.7">RINEX3</text>
<circle cx="857.2" cy="1115.5" r="4.3" fill="#22052a"/><text x="873.3" y="1123.7">RINEX4</text>
</g>
<text x="25.4" y="1170.2" font-size="19.44" font-style="italic">Wed Mar 18 13:22:44 2026</text>
<text x="970.3" y="1169.9" font-size="19.44" font-style="italic" text-anchor="end">©GNSS@ROB</text>
</svg>
</body></html>
